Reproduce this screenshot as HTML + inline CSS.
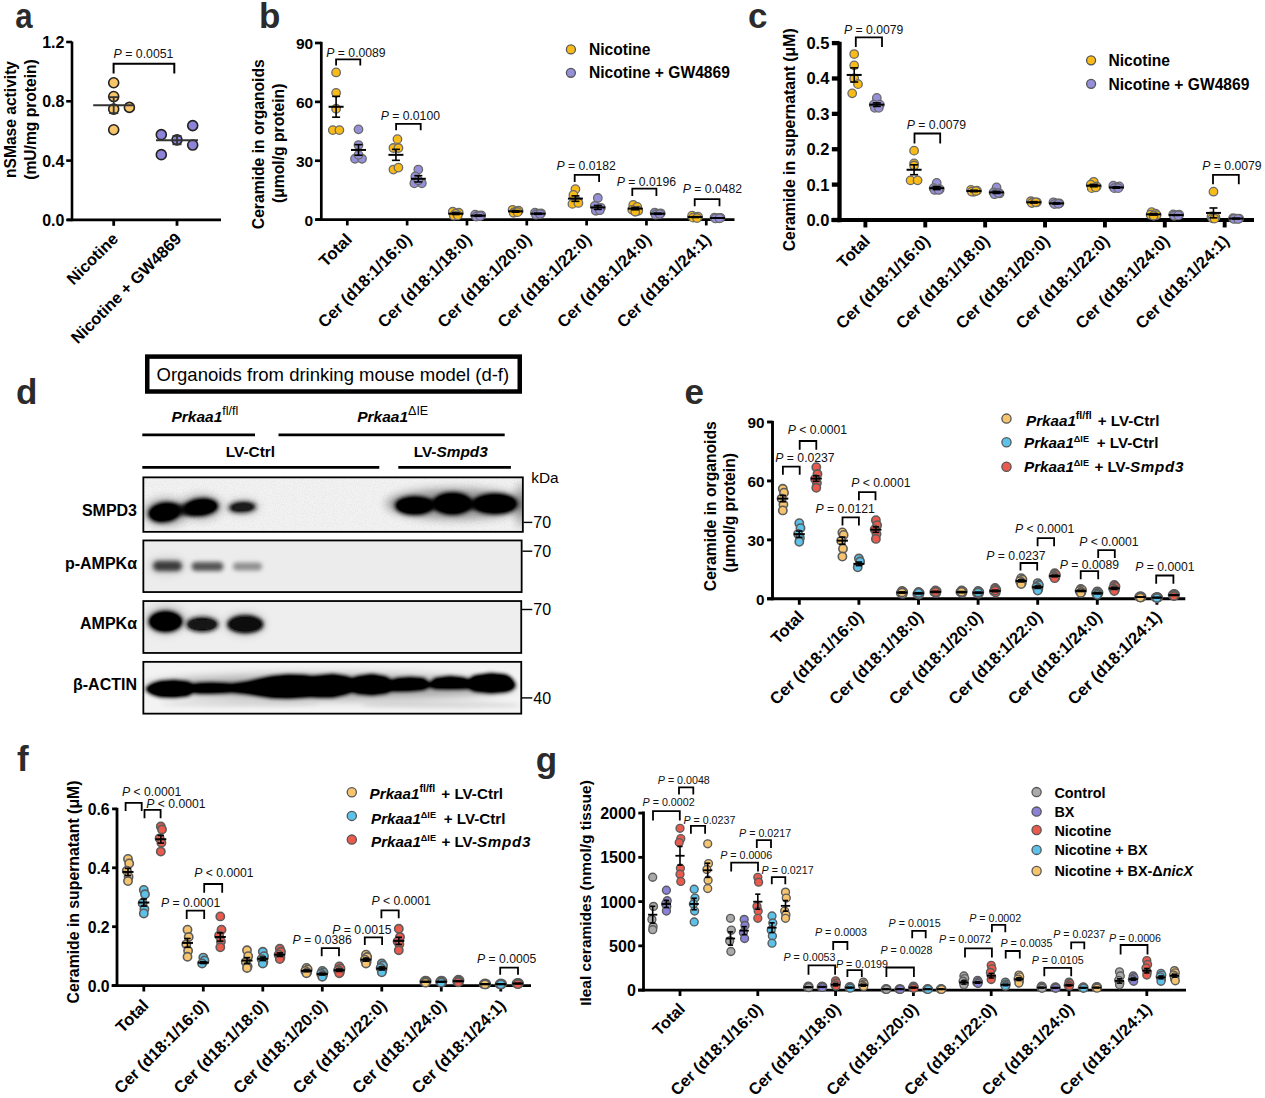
<!DOCTYPE html>
<html><head><meta charset="utf-8"><title>Figure</title>
<style>
html,body{margin:0;padding:0;background:#fff;}
body{width:1265px;height:1098px;overflow:hidden;}
svg{display:block;}
text{font-family:'Liberation Sans', Arial, Helvetica, sans-serif;}
</style></head><body>
<svg width="1265" height="1098" viewBox="0 0 1265 1098">
<rect width="1265" height="1098" fill="#fff"/>
<text transform="translate(15.2 28) scale(0.89 1)" font-size="35" font-weight="bold" fill="#2b2b2b">a</text>
<line x1="72" y1="41.5" x2="72" y2="221.2" stroke="#000" stroke-width="2.6" stroke-linecap="butt"/>
<line x1="66.2" y1="219.9" x2="72" y2="219.9" stroke="#000" stroke-width="2.6" stroke-linecap="butt"/>
<text x="64.4" y="225.9" font-size="16" font-weight="bold" text-anchor="end" fill="#000">0.0</text>
<line x1="66.2" y1="160.6" x2="72" y2="160.6" stroke="#000" stroke-width="2.6" stroke-linecap="butt"/>
<text x="64.4" y="166.6" font-size="16" font-weight="bold" text-anchor="end" fill="#000">0.4</text>
<line x1="66.2" y1="101.3" x2="72" y2="101.3" stroke="#000" stroke-width="2.6" stroke-linecap="butt"/>
<text x="64.4" y="107.3" font-size="16" font-weight="bold" text-anchor="end" fill="#000">0.8</text>
<line x1="66.2" y1="42" x2="72" y2="42" stroke="#000" stroke-width="2.6" stroke-linecap="butt"/>
<text x="64.4" y="48" font-size="16" font-weight="bold" text-anchor="end" fill="#000">1.2</text>
<line x1="67" y1="219.9" x2="221" y2="219.9" stroke="#000" stroke-width="2.8" stroke-linecap="butt"/>
<line x1="113.7" y1="219.9" x2="113.7" y2="225.8" stroke="#000" stroke-width="2.8" stroke-linecap="butt"/>
<line x1="177" y1="219.9" x2="177" y2="225.8" stroke="#000" stroke-width="2.8" stroke-linecap="butt"/>
<text x="15.9" y="119.5" font-size="15.6" font-weight="bold" text-anchor="middle" fill="#000" transform="rotate(-90 15.9 119.5)">nSMase activity</text>
<text x="35.7" y="119.5" font-size="15.6" font-weight="bold" text-anchor="middle" fill="#000" transform="rotate(-90 35.7 119.5)">(mU/mg protein)</text>
<text x="119.2" y="239.9" font-size="16.4" font-weight="bold" text-anchor="end" fill="#000" transform="rotate(-45 119.2 239.9)">Nicotine</text>
<text x="182.5" y="239.9" font-size="16.4" font-weight="bold" text-anchor="end" fill="#000" transform="rotate(-45 182.5 239.9)">Nicotine + GW4869</text>
<circle cx="113.7" cy="82.77" r="5" fill="#F8C56B" stroke="#222" stroke-width="1.6"/>
<circle cx="113.7" cy="96.56" r="5" fill="#F8C56B" stroke="#222" stroke-width="1.6"/>
<circle cx="113.7" cy="109.16" r="5" fill="#F8C56B" stroke="#222" stroke-width="1.6"/>
<circle cx="129.4" cy="107.38" r="5" fill="#F8C56B" stroke="#222" stroke-width="1.6"/>
<circle cx="113.7" cy="129.76" r="5" fill="#F8C56B" stroke="#222" stroke-width="1.6"/>
<circle cx="161.3" cy="134.66" r="5" fill="#8C84D9" stroke="#222" stroke-width="1.6"/>
<circle cx="161.3" cy="154.67" r="5" fill="#8C84D9" stroke="#222" stroke-width="1.6"/>
<circle cx="177" cy="139.84" r="5" fill="#8C84D9" stroke="#222" stroke-width="1.6"/>
<circle cx="192.7" cy="125.61" r="5" fill="#8C84D9" stroke="#222" stroke-width="1.6"/>
<circle cx="192.7" cy="145.03" r="5" fill="#8C84D9" stroke="#222" stroke-width="1.6"/>
<line x1="93.2" y1="105.15" x2="134.2" y2="105.15" stroke="#333" stroke-width="2" stroke-linecap="butt"/>
<line x1="113.7" y1="97.15" x2="113.7" y2="113.16" stroke="#333" stroke-width="1.8" stroke-linecap="butt"/>
<line x1="109.2" y1="97.15" x2="118.2" y2="97.15" stroke="#333" stroke-width="1.8" stroke-linecap="butt"/>
<line x1="109.2" y1="113.16" x2="118.2" y2="113.16" stroke="#333" stroke-width="1.8" stroke-linecap="butt"/>
<line x1="156" y1="140.14" x2="198" y2="140.14" stroke="#333" stroke-width="2" stroke-linecap="butt"/>
<line x1="177" y1="135.99" x2="177" y2="144.29" stroke="#333" stroke-width="1.8" stroke-linecap="butt"/>
<line x1="172.5" y1="135.99" x2="181.5" y2="135.99" stroke="#333" stroke-width="1.8" stroke-linecap="butt"/>
<line x1="172.5" y1="144.29" x2="181.5" y2="144.29" stroke="#333" stroke-width="1.8" stroke-linecap="butt"/>
<path d="M113.6 73.5V63.7H174.3V73.5" fill="none" stroke="#000" stroke-width="2"/>
<text x="143.5" y="57.7" font-size="12.3" text-anchor="middle" fill="#111"><tspan font-style="italic">P</tspan> = 0.0051</text>
<text x="259" y="28" font-size="35" font-weight="bold" fill="#2b2b2b">b</text>
<line x1="321.3" y1="41.8" x2="321.3" y2="220.95" stroke="#000" stroke-width="2.7" stroke-linecap="butt"/>
<line x1="314.95" y1="219.6" x2="321.3" y2="219.6" stroke="#000" stroke-width="2.7" stroke-linecap="butt"/>
<text x="313.15" y="225.6" font-size="15.5" font-weight="bold" text-anchor="end" fill="#000">0</text>
<line x1="314.95" y1="160.73" x2="321.3" y2="160.73" stroke="#000" stroke-width="2.7" stroke-linecap="butt"/>
<text x="313.15" y="166.73" font-size="15.5" font-weight="bold" text-anchor="end" fill="#000">30</text>
<line x1="314.95" y1="101.87" x2="321.3" y2="101.87" stroke="#000" stroke-width="2.7" stroke-linecap="butt"/>
<text x="313.15" y="107.87" font-size="15.5" font-weight="bold" text-anchor="end" fill="#000">60</text>
<line x1="314.95" y1="43" x2="321.3" y2="43" stroke="#000" stroke-width="2.7" stroke-linecap="butt"/>
<text x="313.15" y="49" font-size="15.5" font-weight="bold" text-anchor="end" fill="#000">90</text>
<line x1="316.4" y1="219.6" x2="734.5" y2="219.6" stroke="#000" stroke-width="2.7" stroke-linecap="butt"/>
<line x1="347.3" y1="219.6" x2="347.3" y2="225.45" stroke="#000" stroke-width="2.7" stroke-linecap="butt"/>
<line x1="407.13" y1="219.6" x2="407.13" y2="225.45" stroke="#000" stroke-width="2.7" stroke-linecap="butt"/>
<line x1="466.96" y1="219.6" x2="466.96" y2="225.45" stroke="#000" stroke-width="2.7" stroke-linecap="butt"/>
<line x1="526.79" y1="219.6" x2="526.79" y2="225.45" stroke="#000" stroke-width="2.7" stroke-linecap="butt"/>
<line x1="586.62" y1="219.6" x2="586.62" y2="225.45" stroke="#000" stroke-width="2.7" stroke-linecap="butt"/>
<line x1="646.45" y1="219.6" x2="646.45" y2="225.45" stroke="#000" stroke-width="2.7" stroke-linecap="butt"/>
<line x1="706.28" y1="219.6" x2="706.28" y2="225.45" stroke="#000" stroke-width="2.7" stroke-linecap="butt"/>
<text x="264.5" y="144.2" font-size="15.7" font-weight="bold" text-anchor="middle" fill="#000" transform="rotate(-90 264.5 144.2)">Ceramide in organoids</text>
<text x="284.5" y="143.3" font-size="15.7" font-weight="bold" text-anchor="middle" fill="#000" transform="rotate(-90 284.5 143.3)">(μmol/g protein)</text>
<text x="352.9" y="240.6" font-size="16.6" font-weight="bold" text-anchor="end" fill="#000" transform="rotate(-45 352.9 240.6)">Total</text>
<text x="412.73" y="240.6" font-size="16.6" font-weight="bold" text-anchor="end" fill="#000" transform="rotate(-45 412.73 240.6)">Cer (d18:1/16:0)</text>
<text x="472.56" y="240.6" font-size="16.6" font-weight="bold" text-anchor="end" fill="#000" transform="rotate(-45 472.56 240.6)">Cer (d18:1/18:0)</text>
<text x="532.39" y="240.6" font-size="16.6" font-weight="bold" text-anchor="end" fill="#000" transform="rotate(-45 532.39 240.6)">Cer (d18:1/20:0)</text>
<text x="592.22" y="240.6" font-size="16.6" font-weight="bold" text-anchor="end" fill="#000" transform="rotate(-45 592.22 240.6)">Cer (d18:1/22:0)</text>
<text x="652.05" y="240.6" font-size="16.6" font-weight="bold" text-anchor="end" fill="#000" transform="rotate(-45 652.05 240.6)">Cer (d18:1/24:0)</text>
<text x="711.88" y="240.6" font-size="16.6" font-weight="bold" text-anchor="end" fill="#000" transform="rotate(-45 711.88 240.6)">Cer (d18:1/24:1)</text>
<circle cx="336.1" cy="72.43" r="4.25" fill="#F9BB17" stroke="#6a6a6a" stroke-width="1.3"/>
<circle cx="336.1" cy="92.84" r="4.25" fill="#F9BB17" stroke="#6a6a6a" stroke-width="1.3"/>
<circle cx="336.1" cy="108.73" r="4.25" fill="#F9BB17" stroke="#6a6a6a" stroke-width="1.3"/>
<circle cx="332.8" cy="130.12" r="4.25" fill="#F9BB17" stroke="#6a6a6a" stroke-width="1.3"/>
<circle cx="339.4" cy="130.12" r="4.25" fill="#F9BB17" stroke="#6a6a6a" stroke-width="1.3"/>
<line x1="328.6" y1="106.77" x2="343.6" y2="106.77" stroke="#000" stroke-width="2.0" stroke-linecap="butt"/>
<line x1="336.1" y1="96.37" x2="336.1" y2="117.17" stroke="#000" stroke-width="1.6" stroke-linecap="butt"/>
<line x1="332.1" y1="96.37" x2="340.1" y2="96.37" stroke="#000" stroke-width="1.6" stroke-linecap="butt"/>
<line x1="332.1" y1="117.17" x2="340.1" y2="117.17" stroke="#000" stroke-width="1.6" stroke-linecap="butt"/>
<circle cx="358.5" cy="129.34" r="4.25" fill="#9690DA" stroke="#6a6a6a" stroke-width="1.3"/>
<circle cx="358.5" cy="145.04" r="4.25" fill="#9690DA" stroke="#6a6a6a" stroke-width="1.3"/>
<circle cx="355" cy="158.77" r="4.25" fill="#9690DA" stroke="#6a6a6a" stroke-width="1.3"/>
<circle cx="362" cy="158.77" r="4.25" fill="#9690DA" stroke="#6a6a6a" stroke-width="1.3"/>
<circle cx="358.5" cy="154.85" r="4.25" fill="#9690DA" stroke="#6a6a6a" stroke-width="1.3"/>
<line x1="351" y1="149.94" x2="366" y2="149.94" stroke="#000" stroke-width="2.0" stroke-linecap="butt"/>
<line x1="358.5" y1="144.64" x2="358.5" y2="155.24" stroke="#000" stroke-width="1.6" stroke-linecap="butt"/>
<line x1="354.5" y1="144.64" x2="362.5" y2="144.64" stroke="#000" stroke-width="1.6" stroke-linecap="butt"/>
<line x1="354.5" y1="155.24" x2="362.5" y2="155.24" stroke="#000" stroke-width="1.6" stroke-linecap="butt"/>
<circle cx="397.43" cy="139.15" r="4.25" fill="#F9BB17" stroke="#6a6a6a" stroke-width="1.3"/>
<circle cx="393.43" cy="147.98" r="4.25" fill="#F9BB17" stroke="#6a6a6a" stroke-width="1.3"/>
<circle cx="398.43" cy="147.98" r="4.25" fill="#F9BB17" stroke="#6a6a6a" stroke-width="1.3"/>
<circle cx="393.43" cy="169.56" r="4.25" fill="#F9BB17" stroke="#6a6a6a" stroke-width="1.3"/>
<circle cx="398.43" cy="167.6" r="4.25" fill="#F9BB17" stroke="#6a6a6a" stroke-width="1.3"/>
<line x1="388.43" y1="154.85" x2="403.43" y2="154.85" stroke="#000" stroke-width="2.0" stroke-linecap="butt"/>
<line x1="395.93" y1="149.35" x2="395.93" y2="160.34" stroke="#000" stroke-width="1.6" stroke-linecap="butt"/>
<line x1="391.93" y1="149.35" x2="399.93" y2="149.35" stroke="#000" stroke-width="1.6" stroke-linecap="butt"/>
<line x1="391.93" y1="160.34" x2="399.93" y2="160.34" stroke="#000" stroke-width="1.6" stroke-linecap="butt"/>
<circle cx="418.33" cy="169.56" r="4.25" fill="#9690DA" stroke="#6a6a6a" stroke-width="1.3"/>
<circle cx="415.33" cy="176.43" r="4.25" fill="#9690DA" stroke="#6a6a6a" stroke-width="1.3"/>
<circle cx="414.33" cy="183.3" r="4.25" fill="#9690DA" stroke="#6a6a6a" stroke-width="1.3"/>
<circle cx="421.83" cy="183.3" r="4.25" fill="#9690DA" stroke="#6a6a6a" stroke-width="1.3"/>
<circle cx="418.33" cy="180.36" r="4.25" fill="#9690DA" stroke="#6a6a6a" stroke-width="1.3"/>
<line x1="410.83" y1="178.79" x2="425.83" y2="178.79" stroke="#000" stroke-width="2.0" stroke-linecap="butt"/>
<line x1="418.33" y1="175.65" x2="418.33" y2="181.93" stroke="#000" stroke-width="1.6" stroke-linecap="butt"/>
<line x1="414.33" y1="175.65" x2="422.33" y2="175.65" stroke="#000" stroke-width="1.6" stroke-linecap="butt"/>
<line x1="414.33" y1="181.93" x2="422.33" y2="181.93" stroke="#000" stroke-width="1.6" stroke-linecap="butt"/>
<circle cx="452.76" cy="211.75" r="4.25" fill="#F9BB17" stroke="#6a6a6a" stroke-width="1.3"/>
<circle cx="458.76" cy="212.73" r="4.25" fill="#F9BB17" stroke="#6a6a6a" stroke-width="1.3"/>
<circle cx="455.76" cy="213.71" r="4.25" fill="#F9BB17" stroke="#6a6a6a" stroke-width="1.3"/>
<circle cx="453.76" cy="215.68" r="4.25" fill="#F9BB17" stroke="#6a6a6a" stroke-width="1.3"/>
<circle cx="457.76" cy="215.28" r="4.25" fill="#F9BB17" stroke="#6a6a6a" stroke-width="1.3"/>
<line x1="448.26" y1="213.71" x2="463.26" y2="213.71" stroke="#000" stroke-width="2.0" stroke-linecap="butt"/>
<line x1="455.76" y1="212.93" x2="455.76" y2="214.5" stroke="#000" stroke-width="1.6" stroke-linecap="butt"/>
<line x1="451.76" y1="212.93" x2="459.76" y2="212.93" stroke="#000" stroke-width="1.6" stroke-linecap="butt"/>
<line x1="451.76" y1="214.5" x2="459.76" y2="214.5" stroke="#000" stroke-width="1.6" stroke-linecap="butt"/>
<circle cx="475.16" cy="214.69" r="4.25" fill="#9690DA" stroke="#6a6a6a" stroke-width="1.3"/>
<circle cx="481.16" cy="215.28" r="4.25" fill="#9690DA" stroke="#6a6a6a" stroke-width="1.3"/>
<circle cx="478.16" cy="215.68" r="4.25" fill="#9690DA" stroke="#6a6a6a" stroke-width="1.3"/>
<circle cx="476.16" cy="216.66" r="4.25" fill="#9690DA" stroke="#6a6a6a" stroke-width="1.3"/>
<circle cx="480.16" cy="216.07" r="4.25" fill="#9690DA" stroke="#6a6a6a" stroke-width="1.3"/>
<line x1="470.66" y1="215.68" x2="485.66" y2="215.68" stroke="#000" stroke-width="2.0" stroke-linecap="butt"/>
<line x1="478.16" y1="215.09" x2="478.16" y2="216.26" stroke="#000" stroke-width="1.6" stroke-linecap="butt"/>
<line x1="474.16" y1="215.09" x2="482.16" y2="215.09" stroke="#000" stroke-width="1.6" stroke-linecap="butt"/>
<line x1="474.16" y1="216.26" x2="482.16" y2="216.26" stroke="#000" stroke-width="1.6" stroke-linecap="butt"/>
<circle cx="512.59" cy="209.79" r="4.25" fill="#F9BB17" stroke="#6a6a6a" stroke-width="1.3"/>
<circle cx="518.59" cy="210.77" r="4.25" fill="#F9BB17" stroke="#6a6a6a" stroke-width="1.3"/>
<circle cx="515.59" cy="211.75" r="4.25" fill="#F9BB17" stroke="#6a6a6a" stroke-width="1.3"/>
<circle cx="513.59" cy="212.73" r="4.25" fill="#F9BB17" stroke="#6a6a6a" stroke-width="1.3"/>
<circle cx="517.59" cy="212.14" r="4.25" fill="#F9BB17" stroke="#6a6a6a" stroke-width="1.3"/>
<line x1="508.09" y1="211.36" x2="523.09" y2="211.36" stroke="#000" stroke-width="2.0" stroke-linecap="butt"/>
<line x1="515.59" y1="210.57" x2="515.59" y2="212.14" stroke="#000" stroke-width="1.6" stroke-linecap="butt"/>
<line x1="511.59" y1="210.57" x2="519.59" y2="210.57" stroke="#000" stroke-width="1.6" stroke-linecap="butt"/>
<line x1="511.59" y1="212.14" x2="519.59" y2="212.14" stroke="#000" stroke-width="1.6" stroke-linecap="butt"/>
<circle cx="534.99" cy="212.73" r="4.25" fill="#9690DA" stroke="#6a6a6a" stroke-width="1.3"/>
<circle cx="540.99" cy="213.32" r="4.25" fill="#9690DA" stroke="#6a6a6a" stroke-width="1.3"/>
<circle cx="537.99" cy="213.71" r="4.25" fill="#9690DA" stroke="#6a6a6a" stroke-width="1.3"/>
<circle cx="535.99" cy="214.69" r="4.25" fill="#9690DA" stroke="#6a6a6a" stroke-width="1.3"/>
<circle cx="539.99" cy="214.11" r="4.25" fill="#9690DA" stroke="#6a6a6a" stroke-width="1.3"/>
<line x1="530.49" y1="213.71" x2="545.49" y2="213.71" stroke="#000" stroke-width="2.0" stroke-linecap="butt"/>
<line x1="537.99" y1="213.12" x2="537.99" y2="214.3" stroke="#000" stroke-width="1.6" stroke-linecap="butt"/>
<line x1="533.99" y1="213.12" x2="541.99" y2="213.12" stroke="#000" stroke-width="1.6" stroke-linecap="butt"/>
<line x1="533.99" y1="214.3" x2="541.99" y2="214.3" stroke="#000" stroke-width="1.6" stroke-linecap="butt"/>
<circle cx="575.42" cy="189.19" r="4.25" fill="#F9BB17" stroke="#6a6a6a" stroke-width="1.3"/>
<circle cx="573.42" cy="194.88" r="4.25" fill="#F9BB17" stroke="#6a6a6a" stroke-width="1.3"/>
<circle cx="577.42" cy="201.35" r="4.25" fill="#F9BB17" stroke="#6a6a6a" stroke-width="1.3"/>
<circle cx="572.42" cy="203.9" r="4.25" fill="#F9BB17" stroke="#6a6a6a" stroke-width="1.3"/>
<circle cx="578.42" cy="202.92" r="4.25" fill="#F9BB17" stroke="#6a6a6a" stroke-width="1.3"/>
<line x1="567.92" y1="198.6" x2="582.92" y2="198.6" stroke="#000" stroke-width="2.0" stroke-linecap="butt"/>
<line x1="575.42" y1="195.86" x2="575.42" y2="201.35" stroke="#000" stroke-width="1.6" stroke-linecap="butt"/>
<line x1="571.42" y1="195.86" x2="579.42" y2="195.86" stroke="#000" stroke-width="1.6" stroke-linecap="butt"/>
<line x1="571.42" y1="201.35" x2="579.42" y2="201.35" stroke="#000" stroke-width="1.6" stroke-linecap="butt"/>
<circle cx="597.82" cy="198.02" r="4.25" fill="#9690DA" stroke="#6a6a6a" stroke-width="1.3"/>
<circle cx="594.82" cy="205.86" r="4.25" fill="#9690DA" stroke="#6a6a6a" stroke-width="1.3"/>
<circle cx="600.82" cy="207.83" r="4.25" fill="#9690DA" stroke="#6a6a6a" stroke-width="1.3"/>
<circle cx="595.82" cy="210.77" r="4.25" fill="#9690DA" stroke="#6a6a6a" stroke-width="1.3"/>
<circle cx="599.82" cy="210.18" r="4.25" fill="#9690DA" stroke="#6a6a6a" stroke-width="1.3"/>
<line x1="590.32" y1="207.43" x2="605.32" y2="207.43" stroke="#000" stroke-width="2.0" stroke-linecap="butt"/>
<line x1="597.82" y1="205.47" x2="597.82" y2="209.4" stroke="#000" stroke-width="1.6" stroke-linecap="butt"/>
<line x1="593.82" y1="205.47" x2="601.82" y2="205.47" stroke="#000" stroke-width="1.6" stroke-linecap="butt"/>
<line x1="593.82" y1="209.4" x2="601.82" y2="209.4" stroke="#000" stroke-width="1.6" stroke-linecap="butt"/>
<circle cx="633.25" cy="204.88" r="4.25" fill="#F9BB17" stroke="#6a6a6a" stroke-width="1.3"/>
<circle cx="637.25" cy="206.85" r="4.25" fill="#F9BB17" stroke="#6a6a6a" stroke-width="1.3"/>
<circle cx="632.25" cy="209.79" r="4.25" fill="#F9BB17" stroke="#6a6a6a" stroke-width="1.3"/>
<circle cx="638.25" cy="210.77" r="4.25" fill="#F9BB17" stroke="#6a6a6a" stroke-width="1.3"/>
<circle cx="635.25" cy="211.75" r="4.25" fill="#F9BB17" stroke="#6a6a6a" stroke-width="1.3"/>
<line x1="627.75" y1="208.61" x2="642.75" y2="208.61" stroke="#000" stroke-width="2.0" stroke-linecap="butt"/>
<line x1="635.25" y1="207.43" x2="635.25" y2="209.79" stroke="#000" stroke-width="1.6" stroke-linecap="butt"/>
<line x1="631.25" y1="207.43" x2="639.25" y2="207.43" stroke="#000" stroke-width="1.6" stroke-linecap="butt"/>
<line x1="631.25" y1="209.79" x2="639.25" y2="209.79" stroke="#000" stroke-width="1.6" stroke-linecap="butt"/>
<circle cx="654.65" cy="212.73" r="4.25" fill="#9690DA" stroke="#6a6a6a" stroke-width="1.3"/>
<circle cx="660.65" cy="213.32" r="4.25" fill="#9690DA" stroke="#6a6a6a" stroke-width="1.3"/>
<circle cx="657.65" cy="213.71" r="4.25" fill="#9690DA" stroke="#6a6a6a" stroke-width="1.3"/>
<circle cx="655.65" cy="214.69" r="4.25" fill="#9690DA" stroke="#6a6a6a" stroke-width="1.3"/>
<circle cx="659.65" cy="214.11" r="4.25" fill="#9690DA" stroke="#6a6a6a" stroke-width="1.3"/>
<line x1="650.15" y1="213.71" x2="665.15" y2="213.71" stroke="#000" stroke-width="2.0" stroke-linecap="butt"/>
<line x1="657.65" y1="213.12" x2="657.65" y2="214.3" stroke="#000" stroke-width="1.6" stroke-linecap="butt"/>
<line x1="653.65" y1="213.12" x2="661.65" y2="213.12" stroke="#000" stroke-width="1.6" stroke-linecap="butt"/>
<line x1="653.65" y1="214.3" x2="661.65" y2="214.3" stroke="#000" stroke-width="1.6" stroke-linecap="butt"/>
<circle cx="692.08" cy="215.68" r="4.25" fill="#F9BB17" stroke="#6a6a6a" stroke-width="1.3"/>
<circle cx="698.08" cy="216.66" r="4.25" fill="#F9BB17" stroke="#6a6a6a" stroke-width="1.3"/>
<circle cx="695.08" cy="217.25" r="4.25" fill="#F9BB17" stroke="#6a6a6a" stroke-width="1.3"/>
<circle cx="693.08" cy="217.64" r="4.25" fill="#F9BB17" stroke="#6a6a6a" stroke-width="1.3"/>
<circle cx="697.08" cy="218.03" r="4.25" fill="#F9BB17" stroke="#6a6a6a" stroke-width="1.3"/>
<line x1="687.58" y1="217.05" x2="702.58" y2="217.05" stroke="#000" stroke-width="2.0" stroke-linecap="butt"/>
<line x1="695.08" y1="216.66" x2="695.08" y2="217.44" stroke="#000" stroke-width="1.6" stroke-linecap="butt"/>
<line x1="691.08" y1="216.66" x2="699.08" y2="216.66" stroke="#000" stroke-width="1.6" stroke-linecap="butt"/>
<line x1="691.08" y1="217.44" x2="699.08" y2="217.44" stroke="#000" stroke-width="1.6" stroke-linecap="butt"/>
<circle cx="714.48" cy="217.64" r="4.25" fill="#9690DA" stroke="#6a6a6a" stroke-width="1.3"/>
<circle cx="720.48" cy="217.83" r="4.25" fill="#9690DA" stroke="#6a6a6a" stroke-width="1.3"/>
<circle cx="717.48" cy="218.03" r="4.25" fill="#9690DA" stroke="#6a6a6a" stroke-width="1.3"/>
<circle cx="715.48" cy="218.42" r="4.25" fill="#9690DA" stroke="#6a6a6a" stroke-width="1.3"/>
<circle cx="719.48" cy="218.23" r="4.25" fill="#9690DA" stroke="#6a6a6a" stroke-width="1.3"/>
<line x1="709.98" y1="218.03" x2="724.98" y2="218.03" stroke="#000" stroke-width="2.0" stroke-linecap="butt"/>
<line x1="717.48" y1="217.83" x2="717.48" y2="218.23" stroke="#000" stroke-width="1.6" stroke-linecap="butt"/>
<line x1="713.48" y1="217.83" x2="721.48" y2="217.83" stroke="#000" stroke-width="1.6" stroke-linecap="butt"/>
<line x1="713.48" y1="218.23" x2="721.48" y2="218.23" stroke="#000" stroke-width="1.6" stroke-linecap="butt"/>
<path d="M336.1 65.5V59.3H360.3V65.5" fill="none" stroke="#000" stroke-width="1.8"/>
<text x="356" y="56.8" font-size="12.2" text-anchor="middle" fill="#111"><tspan font-style="italic">P</tspan> = 0.0089</text>
<path d="M396.1 130.2V123.9H420.7V130.2" fill="none" stroke="#000" stroke-width="1.8"/>
<text x="410.3" y="119.8" font-size="12.2" text-anchor="middle" fill="#111"><tspan font-style="italic">P</tspan> = 0.0100</text>
<path d="M574.7 182V174.9H599.1V182" fill="none" stroke="#000" stroke-width="1.8"/>
<text x="586.2" y="170.4" font-size="12.2" text-anchor="middle" fill="#111"><tspan font-style="italic">P</tspan> = 0.0182</text>
<path d="M632.3 195.9V188.6H656.4V195.9" fill="none" stroke="#000" stroke-width="1.8"/>
<text x="646.4" y="185.5" font-size="12.2" text-anchor="middle" fill="#111"><tspan font-style="italic">P</tspan> = 0.0196</text>
<path d="M694.7 206.3V199.2H719.5V206.3" fill="none" stroke="#000" stroke-width="1.8"/>
<text x="712.4" y="193.2" font-size="12.2" text-anchor="middle" fill="#111"><tspan font-style="italic">P</tspan> = 0.0482</text>
<circle cx="570.9" cy="49.4" r="4.5" fill="#F9BB17" stroke="#555" stroke-width="1.3"/>
<text x="589" y="55" font-size="15.6" font-weight="bold" text-anchor="start" fill="#000">Nicotine</text>
<circle cx="570.9" cy="72.8" r="4.5" fill="#9690DA" stroke="#555" stroke-width="1.3"/>
<text x="589" y="78.4" font-size="15.6" font-weight="bold" text-anchor="start" fill="#000">Nicotine + GW4869</text>
<text x="748" y="27.5" font-size="35" font-weight="bold" fill="#2b2b2b">c</text>
<line x1="839.5" y1="41.7" x2="839.5" y2="222.15" stroke="#000" stroke-width="4.3" stroke-linecap="butt"/>
<line x1="831.85" y1="220" x2="839.5" y2="220" stroke="#000" stroke-width="4.3" stroke-linecap="butt"/>
<text x="829.35" y="226" font-size="16.5" font-weight="bold" text-anchor="end" fill="#000">0.0</text>
<line x1="831.85" y1="184.62" x2="839.5" y2="184.62" stroke="#000" stroke-width="4.3" stroke-linecap="butt"/>
<text x="829.35" y="190.62" font-size="16.5" font-weight="bold" text-anchor="end" fill="#000">0.1</text>
<line x1="831.85" y1="149.24" x2="839.5" y2="149.24" stroke="#000" stroke-width="4.3" stroke-linecap="butt"/>
<text x="829.35" y="155.24" font-size="16.5" font-weight="bold" text-anchor="end" fill="#000">0.2</text>
<line x1="831.85" y1="113.86" x2="839.5" y2="113.86" stroke="#000" stroke-width="4.3" stroke-linecap="butt"/>
<text x="829.35" y="119.86" font-size="16.5" font-weight="bold" text-anchor="end" fill="#000">0.3</text>
<line x1="831.85" y1="78.48" x2="839.5" y2="78.48" stroke="#000" stroke-width="4.3" stroke-linecap="butt"/>
<text x="829.35" y="84.48" font-size="16.5" font-weight="bold" text-anchor="end" fill="#000">0.4</text>
<line x1="831.85" y1="43.1" x2="839.5" y2="43.1" stroke="#000" stroke-width="4.3" stroke-linecap="butt"/>
<text x="829.35" y="49.1" font-size="16.5" font-weight="bold" text-anchor="end" fill="#000">0.5</text>
<line x1="831.4" y1="220" x2="1254" y2="220" stroke="#000" stroke-width="3.9" stroke-linecap="butt"/>
<line x1="865.4" y1="220" x2="865.4" y2="227.45" stroke="#000" stroke-width="3.9" stroke-linecap="butt"/>
<line x1="925.28" y1="220" x2="925.28" y2="227.45" stroke="#000" stroke-width="3.9" stroke-linecap="butt"/>
<line x1="985.16" y1="220" x2="985.16" y2="227.45" stroke="#000" stroke-width="3.9" stroke-linecap="butt"/>
<line x1="1045.04" y1="220" x2="1045.04" y2="227.45" stroke="#000" stroke-width="3.9" stroke-linecap="butt"/>
<line x1="1104.92" y1="220" x2="1104.92" y2="227.45" stroke="#000" stroke-width="3.9" stroke-linecap="butt"/>
<line x1="1164.8" y1="220" x2="1164.8" y2="227.45" stroke="#000" stroke-width="3.9" stroke-linecap="butt"/>
<line x1="1224.68" y1="220" x2="1224.68" y2="227.45" stroke="#000" stroke-width="3.9" stroke-linecap="butt"/>
<text x="795" y="139.8" font-size="15.8" font-weight="bold" text-anchor="middle" fill="#000" transform="rotate(-90 795 139.8)">Ceramide in supernatant (μM)</text>
<text x="871" y="242" font-size="16.6" font-weight="bold" text-anchor="end" fill="#000" transform="rotate(-45 871 242)">Total</text>
<text x="930.88" y="242" font-size="16.6" font-weight="bold" text-anchor="end" fill="#000" transform="rotate(-45 930.88 242)">Cer (d18:1/16:0)</text>
<text x="990.76" y="242" font-size="16.6" font-weight="bold" text-anchor="end" fill="#000" transform="rotate(-45 990.76 242)">Cer (d18:1/18:0)</text>
<text x="1050.64" y="242" font-size="16.6" font-weight="bold" text-anchor="end" fill="#000" transform="rotate(-45 1050.64 242)">Cer (d18:1/20:0)</text>
<text x="1110.52" y="242" font-size="16.6" font-weight="bold" text-anchor="end" fill="#000" transform="rotate(-45 1110.52 242)">Cer (d18:1/22:0)</text>
<text x="1170.4" y="242" font-size="16.6" font-weight="bold" text-anchor="end" fill="#000" transform="rotate(-45 1170.4 242)">Cer (d18:1/24:0)</text>
<text x="1230.28" y="242" font-size="16.6" font-weight="bold" text-anchor="end" fill="#000" transform="rotate(-45 1230.28 242)">Cer (d18:1/24:1)</text>
<circle cx="854.2" cy="54.07" r="4.25" fill="#F9BB17" stroke="#6a6a6a" stroke-width="1.3"/>
<circle cx="854.2" cy="65.39" r="4.25" fill="#F9BB17" stroke="#6a6a6a" stroke-width="1.3"/>
<circle cx="854.2" cy="78.48" r="4.25" fill="#F9BB17" stroke="#6a6a6a" stroke-width="1.3"/>
<circle cx="858" cy="84.14" r="4.25" fill="#F9BB17" stroke="#6a6a6a" stroke-width="1.3"/>
<circle cx="852.2" cy="93.34" r="4.25" fill="#F9BB17" stroke="#6a6a6a" stroke-width="1.3"/>
<line x1="846.7" y1="74.94" x2="861.7" y2="74.94" stroke="#000" stroke-width="2.0" stroke-linecap="butt"/>
<line x1="854.2" y1="67.87" x2="854.2" y2="82.02" stroke="#000" stroke-width="1.6" stroke-linecap="butt"/>
<line x1="850.2" y1="67.87" x2="858.2" y2="67.87" stroke="#000" stroke-width="1.6" stroke-linecap="butt"/>
<line x1="850.2" y1="82.02" x2="858.2" y2="82.02" stroke="#000" stroke-width="1.6" stroke-linecap="butt"/>
<circle cx="876.8" cy="97.94" r="4.25" fill="#9690DA" stroke="#6a6a6a" stroke-width="1.3"/>
<circle cx="873.8" cy="104.66" r="4.25" fill="#9690DA" stroke="#6a6a6a" stroke-width="1.3"/>
<circle cx="879.8" cy="104.66" r="4.25" fill="#9690DA" stroke="#6a6a6a" stroke-width="1.3"/>
<circle cx="874.8" cy="107.85" r="4.25" fill="#9690DA" stroke="#6a6a6a" stroke-width="1.3"/>
<circle cx="878.8" cy="107.85" r="4.25" fill="#9690DA" stroke="#6a6a6a" stroke-width="1.3"/>
<line x1="869.3" y1="104.66" x2="884.3" y2="104.66" stroke="#000" stroke-width="2.0" stroke-linecap="butt"/>
<line x1="876.8" y1="102.89" x2="876.8" y2="106.43" stroke="#000" stroke-width="1.6" stroke-linecap="butt"/>
<line x1="872.8" y1="102.89" x2="880.8" y2="102.89" stroke="#000" stroke-width="1.6" stroke-linecap="butt"/>
<line x1="872.8" y1="106.43" x2="880.8" y2="106.43" stroke="#000" stroke-width="1.6" stroke-linecap="butt"/>
<circle cx="914.08" cy="150.66" r="4.25" fill="#F9BB17" stroke="#6a6a6a" stroke-width="1.3"/>
<circle cx="914.08" cy="163.39" r="4.25" fill="#F9BB17" stroke="#6a6a6a" stroke-width="1.3"/>
<circle cx="914.08" cy="165.51" r="4.25" fill="#F9BB17" stroke="#6a6a6a" stroke-width="1.3"/>
<circle cx="910.58" cy="180.37" r="4.25" fill="#F9BB17" stroke="#6a6a6a" stroke-width="1.3"/>
<circle cx="917.58" cy="180.37" r="4.25" fill="#F9BB17" stroke="#6a6a6a" stroke-width="1.3"/>
<line x1="906.58" y1="169.76" x2="921.58" y2="169.76" stroke="#000" stroke-width="2.0" stroke-linecap="butt"/>
<line x1="914.08" y1="164.81" x2="914.08" y2="174.71" stroke="#000" stroke-width="1.6" stroke-linecap="butt"/>
<line x1="910.08" y1="164.81" x2="918.08" y2="164.81" stroke="#000" stroke-width="1.6" stroke-linecap="butt"/>
<line x1="910.08" y1="174.71" x2="918.08" y2="174.71" stroke="#000" stroke-width="1.6" stroke-linecap="butt"/>
<circle cx="936.68" cy="182.85" r="4.25" fill="#9690DA" stroke="#6a6a6a" stroke-width="1.3"/>
<circle cx="933.68" cy="188.16" r="4.25" fill="#9690DA" stroke="#6a6a6a" stroke-width="1.3"/>
<circle cx="939.68" cy="189.22" r="4.25" fill="#9690DA" stroke="#6a6a6a" stroke-width="1.3"/>
<circle cx="934.68" cy="189.93" r="4.25" fill="#9690DA" stroke="#6a6a6a" stroke-width="1.3"/>
<circle cx="938.68" cy="189.93" r="4.25" fill="#9690DA" stroke="#6a6a6a" stroke-width="1.3"/>
<line x1="929.18" y1="188.16" x2="944.18" y2="188.16" stroke="#000" stroke-width="2.0" stroke-linecap="butt"/>
<line x1="936.68" y1="186.74" x2="936.68" y2="189.57" stroke="#000" stroke-width="1.6" stroke-linecap="butt"/>
<line x1="932.68" y1="186.74" x2="940.68" y2="186.74" stroke="#000" stroke-width="1.6" stroke-linecap="butt"/>
<line x1="932.68" y1="189.57" x2="940.68" y2="189.57" stroke="#000" stroke-width="1.6" stroke-linecap="butt"/>
<circle cx="970.96" cy="189.93" r="4.25" fill="#F9BB17" stroke="#6a6a6a" stroke-width="1.3"/>
<circle cx="976.96" cy="190.63" r="4.25" fill="#F9BB17" stroke="#6a6a6a" stroke-width="1.3"/>
<circle cx="973.96" cy="191.7" r="4.25" fill="#F9BB17" stroke="#6a6a6a" stroke-width="1.3"/>
<circle cx="971.96" cy="191.7" r="4.25" fill="#F9BB17" stroke="#6a6a6a" stroke-width="1.3"/>
<circle cx="975.96" cy="190.99" r="4.25" fill="#F9BB17" stroke="#6a6a6a" stroke-width="1.3"/>
<line x1="966.46" y1="190.99" x2="981.46" y2="190.99" stroke="#000" stroke-width="2.0" stroke-linecap="butt"/>
<line x1="973.96" y1="190.28" x2="973.96" y2="191.7" stroke="#000" stroke-width="1.6" stroke-linecap="butt"/>
<line x1="969.96" y1="190.28" x2="977.96" y2="190.28" stroke="#000" stroke-width="1.6" stroke-linecap="butt"/>
<line x1="969.96" y1="191.7" x2="977.96" y2="191.7" stroke="#000" stroke-width="1.6" stroke-linecap="butt"/>
<circle cx="996.56" cy="187.45" r="4.25" fill="#9690DA" stroke="#6a6a6a" stroke-width="1.3"/>
<circle cx="993.56" cy="192.4" r="4.25" fill="#9690DA" stroke="#6a6a6a" stroke-width="1.3"/>
<circle cx="999.56" cy="193.47" r="4.25" fill="#9690DA" stroke="#6a6a6a" stroke-width="1.3"/>
<circle cx="994.56" cy="194.17" r="4.25" fill="#9690DA" stroke="#6a6a6a" stroke-width="1.3"/>
<circle cx="998.56" cy="193.11" r="4.25" fill="#9690DA" stroke="#6a6a6a" stroke-width="1.3"/>
<line x1="989.06" y1="192.4" x2="1004.06" y2="192.4" stroke="#000" stroke-width="2.0" stroke-linecap="butt"/>
<line x1="996.56" y1="191.34" x2="996.56" y2="193.47" stroke="#000" stroke-width="1.6" stroke-linecap="butt"/>
<line x1="992.56" y1="191.34" x2="1000.56" y2="191.34" stroke="#000" stroke-width="1.6" stroke-linecap="butt"/>
<line x1="992.56" y1="193.47" x2="1000.56" y2="193.47" stroke="#000" stroke-width="1.6" stroke-linecap="butt"/>
<circle cx="1030.84" cy="201.25" r="4.25" fill="#F9BB17" stroke="#6a6a6a" stroke-width="1.3"/>
<circle cx="1036.84" cy="202.31" r="4.25" fill="#F9BB17" stroke="#6a6a6a" stroke-width="1.3"/>
<circle cx="1033.84" cy="202.31" r="4.25" fill="#F9BB17" stroke="#6a6a6a" stroke-width="1.3"/>
<circle cx="1031.84" cy="203.02" r="4.25" fill="#F9BB17" stroke="#6a6a6a" stroke-width="1.3"/>
<circle cx="1035.84" cy="202.31" r="4.25" fill="#F9BB17" stroke="#6a6a6a" stroke-width="1.3"/>
<line x1="1026.34" y1="202.31" x2="1041.34" y2="202.31" stroke="#000" stroke-width="2.0" stroke-linecap="butt"/>
<line x1="1033.84" y1="201.6" x2="1033.84" y2="203.02" stroke="#000" stroke-width="1.6" stroke-linecap="butt"/>
<line x1="1029.84" y1="201.6" x2="1037.84" y2="201.6" stroke="#000" stroke-width="1.6" stroke-linecap="butt"/>
<line x1="1029.84" y1="203.02" x2="1037.84" y2="203.02" stroke="#000" stroke-width="1.6" stroke-linecap="butt"/>
<circle cx="1053.44" cy="202.31" r="4.25" fill="#9690DA" stroke="#6a6a6a" stroke-width="1.3"/>
<circle cx="1059.44" cy="203.37" r="4.25" fill="#9690DA" stroke="#6a6a6a" stroke-width="1.3"/>
<circle cx="1056.44" cy="203.37" r="4.25" fill="#9690DA" stroke="#6a6a6a" stroke-width="1.3"/>
<circle cx="1054.44" cy="204.08" r="4.25" fill="#9690DA" stroke="#6a6a6a" stroke-width="1.3"/>
<circle cx="1058.44" cy="203.73" r="4.25" fill="#9690DA" stroke="#6a6a6a" stroke-width="1.3"/>
<line x1="1048.94" y1="203.37" x2="1063.94" y2="203.37" stroke="#000" stroke-width="2.0" stroke-linecap="butt"/>
<line x1="1056.44" y1="202.66" x2="1056.44" y2="204.08" stroke="#000" stroke-width="1.6" stroke-linecap="butt"/>
<line x1="1052.44" y1="202.66" x2="1060.44" y2="202.66" stroke="#000" stroke-width="1.6" stroke-linecap="butt"/>
<line x1="1052.44" y1="204.08" x2="1060.44" y2="204.08" stroke="#000" stroke-width="1.6" stroke-linecap="butt"/>
<circle cx="1093.72" cy="181.79" r="4.25" fill="#F9BB17" stroke="#6a6a6a" stroke-width="1.3"/>
<circle cx="1090.72" cy="184.62" r="4.25" fill="#F9BB17" stroke="#6a6a6a" stroke-width="1.3"/>
<circle cx="1096.72" cy="186.39" r="4.25" fill="#F9BB17" stroke="#6a6a6a" stroke-width="1.3"/>
<circle cx="1091.72" cy="188.16" r="4.25" fill="#F9BB17" stroke="#6a6a6a" stroke-width="1.3"/>
<circle cx="1095.72" cy="187.45" r="4.25" fill="#F9BB17" stroke="#6a6a6a" stroke-width="1.3"/>
<line x1="1086.22" y1="185.68" x2="1101.22" y2="185.68" stroke="#000" stroke-width="2.0" stroke-linecap="butt"/>
<line x1="1093.72" y1="184.62" x2="1093.72" y2="186.74" stroke="#000" stroke-width="1.6" stroke-linecap="butt"/>
<line x1="1089.72" y1="184.62" x2="1097.72" y2="184.62" stroke="#000" stroke-width="1.6" stroke-linecap="butt"/>
<line x1="1089.72" y1="186.74" x2="1097.72" y2="186.74" stroke="#000" stroke-width="1.6" stroke-linecap="butt"/>
<circle cx="1113.32" cy="185.68" r="4.25" fill="#9690DA" stroke="#6a6a6a" stroke-width="1.3"/>
<circle cx="1119.32" cy="186.39" r="4.25" fill="#9690DA" stroke="#6a6a6a" stroke-width="1.3"/>
<circle cx="1116.32" cy="187.45" r="4.25" fill="#9690DA" stroke="#6a6a6a" stroke-width="1.3"/>
<circle cx="1114.32" cy="188.16" r="4.25" fill="#9690DA" stroke="#6a6a6a" stroke-width="1.3"/>
<circle cx="1118.32" cy="188.16" r="4.25" fill="#9690DA" stroke="#6a6a6a" stroke-width="1.3"/>
<line x1="1108.82" y1="187.45" x2="1123.82" y2="187.45" stroke="#000" stroke-width="2.0" stroke-linecap="butt"/>
<line x1="1116.32" y1="186.74" x2="1116.32" y2="188.16" stroke="#000" stroke-width="1.6" stroke-linecap="butt"/>
<line x1="1112.32" y1="186.74" x2="1120.32" y2="186.74" stroke="#000" stroke-width="1.6" stroke-linecap="butt"/>
<line x1="1112.32" y1="188.16" x2="1120.32" y2="188.16" stroke="#000" stroke-width="1.6" stroke-linecap="butt"/>
<circle cx="1151.6" cy="212.22" r="4.25" fill="#F9BB17" stroke="#6a6a6a" stroke-width="1.3"/>
<circle cx="1155.6" cy="213.63" r="4.25" fill="#F9BB17" stroke="#6a6a6a" stroke-width="1.3"/>
<circle cx="1150.6" cy="214.69" r="4.25" fill="#F9BB17" stroke="#6a6a6a" stroke-width="1.3"/>
<circle cx="1156.6" cy="215.05" r="4.25" fill="#F9BB17" stroke="#6a6a6a" stroke-width="1.3"/>
<circle cx="1153.6" cy="215.75" r="4.25" fill="#F9BB17" stroke="#6a6a6a" stroke-width="1.3"/>
<line x1="1146.1" y1="214.34" x2="1161.1" y2="214.34" stroke="#000" stroke-width="2.0" stroke-linecap="butt"/>
<line x1="1153.6" y1="213.63" x2="1153.6" y2="215.05" stroke="#000" stroke-width="1.6" stroke-linecap="butt"/>
<line x1="1149.6" y1="213.63" x2="1157.6" y2="213.63" stroke="#000" stroke-width="1.6" stroke-linecap="butt"/>
<line x1="1149.6" y1="215.05" x2="1157.6" y2="215.05" stroke="#000" stroke-width="1.6" stroke-linecap="butt"/>
<circle cx="1173.2" cy="214.34" r="4.25" fill="#9690DA" stroke="#6a6a6a" stroke-width="1.3"/>
<circle cx="1179.2" cy="214.69" r="4.25" fill="#9690DA" stroke="#6a6a6a" stroke-width="1.3"/>
<circle cx="1176.2" cy="215.05" r="4.25" fill="#9690DA" stroke="#6a6a6a" stroke-width="1.3"/>
<circle cx="1174.2" cy="215.75" r="4.25" fill="#9690DA" stroke="#6a6a6a" stroke-width="1.3"/>
<circle cx="1178.2" cy="215.4" r="4.25" fill="#9690DA" stroke="#6a6a6a" stroke-width="1.3"/>
<line x1="1168.7" y1="215.05" x2="1183.7" y2="215.05" stroke="#000" stroke-width="2.0" stroke-linecap="butt"/>
<line x1="1176.2" y1="214.69" x2="1176.2" y2="215.4" stroke="#000" stroke-width="1.6" stroke-linecap="butt"/>
<line x1="1172.2" y1="214.69" x2="1180.2" y2="214.69" stroke="#000" stroke-width="1.6" stroke-linecap="butt"/>
<line x1="1172.2" y1="215.4" x2="1180.2" y2="215.4" stroke="#000" stroke-width="1.6" stroke-linecap="butt"/>
<circle cx="1213.48" cy="191.7" r="4.25" fill="#F9BB17" stroke="#6a6a6a" stroke-width="1.3"/>
<circle cx="1211.48" cy="216.46" r="4.25" fill="#F9BB17" stroke="#6a6a6a" stroke-width="1.3"/>
<circle cx="1215.48" cy="217.17" r="4.25" fill="#F9BB17" stroke="#6a6a6a" stroke-width="1.3"/>
<circle cx="1212.48" cy="218.23" r="4.25" fill="#F9BB17" stroke="#6a6a6a" stroke-width="1.3"/>
<circle cx="1214.48" cy="218.58" r="4.25" fill="#F9BB17" stroke="#6a6a6a" stroke-width="1.3"/>
<line x1="1205.98" y1="212.92" x2="1220.98" y2="212.92" stroke="#000" stroke-width="2.0" stroke-linecap="butt"/>
<line x1="1213.48" y1="207.97" x2="1213.48" y2="217.88" stroke="#000" stroke-width="1.6" stroke-linecap="butt"/>
<line x1="1209.48" y1="207.97" x2="1217.48" y2="207.97" stroke="#000" stroke-width="1.6" stroke-linecap="butt"/>
<line x1="1209.48" y1="217.88" x2="1217.48" y2="217.88" stroke="#000" stroke-width="1.6" stroke-linecap="butt"/>
<circle cx="1233.08" cy="218.23" r="4.25" fill="#9690DA" stroke="#6a6a6a" stroke-width="1.3"/>
<circle cx="1239.08" cy="218.58" r="4.25" fill="#9690DA" stroke="#6a6a6a" stroke-width="1.3"/>
<circle cx="1236.08" cy="218.58" r="4.25" fill="#9690DA" stroke="#6a6a6a" stroke-width="1.3"/>
<circle cx="1234.08" cy="218.94" r="4.25" fill="#9690DA" stroke="#6a6a6a" stroke-width="1.3"/>
<circle cx="1238.08" cy="218.94" r="4.25" fill="#9690DA" stroke="#6a6a6a" stroke-width="1.3"/>
<line x1="1228.58" y1="218.58" x2="1243.58" y2="218.58" stroke="#000" stroke-width="2.0" stroke-linecap="butt"/>
<line x1="1236.08" y1="218.23" x2="1236.08" y2="218.94" stroke="#000" stroke-width="1.6" stroke-linecap="butt"/>
<line x1="1232.08" y1="218.23" x2="1240.08" y2="218.23" stroke="#000" stroke-width="1.6" stroke-linecap="butt"/>
<line x1="1232.08" y1="218.94" x2="1240.08" y2="218.94" stroke="#000" stroke-width="1.6" stroke-linecap="butt"/>
<path d="M855.8 47.1V37.3H882V47.1" fill="none" stroke="#000" stroke-width="1.8"/>
<text x="873.6" y="33.5" font-size="12.2" text-anchor="middle" fill="#111"><tspan font-style="italic">P</tspan> = 0.0079</text>
<path d="M914.5 143.5V133.5H940.2V143.5" fill="none" stroke="#000" stroke-width="1.8"/>
<text x="936.5" y="128.9" font-size="12.2" text-anchor="middle" fill="#111"><tspan font-style="italic">P</tspan> = 0.0079</text>
<path d="M1213 184.3V174.9H1238.8V184.3" fill="none" stroke="#000" stroke-width="1.8"/>
<text x="1232" y="169.7" font-size="12.2" text-anchor="middle" fill="#111"><tspan font-style="italic">P</tspan> = 0.0079</text>
<circle cx="1091.1" cy="60.3" r="4.5" fill="#F9BB17" stroke="#555" stroke-width="1.3"/>
<text x="1108.5" y="66" font-size="15.6" font-weight="bold" text-anchor="start" fill="#000">Nicotine</text>
<circle cx="1091.1" cy="83.8" r="4.5" fill="#9690DA" stroke="#555" stroke-width="1.3"/>
<text x="1108.5" y="89.5" font-size="15.6" font-weight="bold" text-anchor="start" fill="#000">Nicotine + GW4869</text>
<text x="16" y="404" font-size="35" font-weight="bold" fill="#2b2b2b">d</text>
<rect x="147.25" y="356.6" width="372.5" height="34.9" fill="none" stroke="#000" stroke-width="4.5"/>
<text x="156.5" y="381" font-size="18.5" font-weight="normal" text-anchor="start" fill="#000">Organoids from drinking mouse model (d-f)</text>
<text x="171.5" y="421.9" font-size="15.5" font-weight="bold" font-style="italic">Prkaa1<tspan font-size="12.5" font-style="normal" font-weight="normal" dy="-7">fl/fl</tspan></text>
<text x="357.2" y="421.8" font-size="15.5" font-weight="bold" font-style="italic">Prkaa1<tspan font-size="12.5" font-style="normal" font-weight="normal" dy="-7">ΔIE</tspan></text>
<line x1="142.3" y1="434.8" x2="255" y2="434.8" stroke="#000" stroke-width="2.7" stroke-linecap="butt"/>
<line x1="278.5" y1="434.8" x2="504.7" y2="434.8" stroke="#000" stroke-width="2.7" stroke-linecap="butt"/>
<text x="225.8" y="457.3" font-size="15.4" font-weight="bold" text-anchor="start" fill="#000">LV-Ctrl</text>
<text x="413.7" y="456.7" font-size="15.4" font-weight="bold">LV-<tspan font-style="italic">Smpd3</tspan></text>
<line x1="142.3" y1="467.3" x2="379.3" y2="467.3" stroke="#000" stroke-width="2.7" stroke-linecap="butt"/>
<line x1="398.3" y1="467.3" x2="510.9" y2="467.3" stroke="#000" stroke-width="2.7" stroke-linecap="butt"/>
<text x="531.2" y="483.4" font-size="15.4" font-weight="normal" text-anchor="start" fill="#000">kDa</text>
<defs>
<filter id="bd" x="-30%" y="-60%" width="160%" height="220%"><feGaussianBlur stdDeviation="2.6"/><feComponentTransfer><feFuncA type="linear" slope="1.5"/></feComponentTransfer></filter>
<filter id="bd2" x="-10%" y="-60%" width="120%" height="220%"><feGaussianBlur stdDeviation="2.3"/><feComponentTransfer><feFuncA type="linear" slope="1.45"/></feComponentTransfer></filter>
<filter id="bs" x="-30%" y="-60%" width="160%" height="220%"><feGaussianBlur stdDeviation="2.2"/></filter>
<filter id="bh" x="-50%" y="-100%" width="200%" height="300%"><feGaussianBlur stdDeviation="5"/></filter>
<filter id="nz" x="0" y="0" width="100%" height="100%"><feTurbulence type="fractalNoise" baseFrequency="0.9" numOctaves="1" seed="3"/><feColorMatrix type="matrix" values="0 0 0 0 0  0 0 0 0 0  0 0 0 0 0  0 0 0 -2.2 1.25"/></filter>
<clipPath id="c1"><rect x="143" y="477.3" width="380" height="54.6"/></clipPath>
<clipPath id="c2"><rect x="143" y="540.4" width="379" height="51.7"/></clipPath>
<clipPath id="c3"><rect x="143" y="601" width="378.5" height="52"/></clipPath>
<clipPath id="c4"><rect x="143" y="661.8" width="378.5" height="51.9"/></clipPath>
</defs>
<rect x="143.35" y="477.35" width="379.5" height="54.5" fill="#f2f2f2"/>
<g clip-path="url(#c1)">
<rect x="143" y="477" width="380" height="55" filter="url(#nz)" opacity="0.06"/>
<ellipse cx="166" cy="512" rx="22" ry="13" fill="#000" opacity="0.35" filter="url(#bh)"/>
<ellipse cx="201" cy="507" rx="21" ry="12" fill="#000" opacity="0.3" filter="url(#bh)"/>
<ellipse cx="243" cy="507" rx="16" ry="7" fill="#000" opacity="0.2" filter="url(#bh)"/>
<ellipse cx="456" cy="504" rx="70" ry="15" fill="#000" opacity="0.4" filter="url(#bh)"/>
<ellipse cx="522" cy="505" rx="6" ry="22" fill="#000" opacity="0.35" filter="url(#bh)"/>
<ellipse cx="164.5" cy="512.3" rx="15.8" ry="9.3" fill="#000" transform="rotate(-8 164.5 512.3)" filter="url(#bd)"/>
<ellipse cx="200.8" cy="507.3" rx="17" ry="8.2" fill="#000" transform="rotate(-6 200.8 507.3)" filter="url(#bd)"/>
<rect x="170" y="505" width="25" height="10" filter="url(#bs)" opacity="0.9"/>
<ellipse cx="242.3" cy="507.2" rx="13.2" ry="4.6" fill="#1c1c1c" transform="rotate(-3 242.3 507.2)" filter="url(#bd)"/>
<ellipse cx="414.5" cy="505.5" rx="19" ry="8.8" fill="#000" filter="url(#bd)"/>
<ellipse cx="452.5" cy="503.5" rx="19.5" ry="10.6" fill="#000" filter="url(#bd)"/>
<ellipse cx="495" cy="503.8" rx="22" ry="9.8" fill="#000" filter="url(#bd)"/>
<rect x="420" y="500" width="80" height="9" filter="url(#bs)"/>
</g>
<rect x="143.35" y="477.35" width="379.5" height="54.5" fill="none" stroke="#000" stroke-width="1.8"/>
<rect x="143.35" y="540.45" width="378.3" height="51.6" fill="#ececec"/>
<g clip-path="url(#c2)">
<ellipse cx="167" cy="566" rx="18" ry="8" fill="#000" opacity="0.15" filter="url(#bh)"/>
<rect x="153" y="561" width="29" height="10" rx="5" fill="#3a3a3a" filter="url(#bs)"/>
<rect x="191.5" y="562" width="32" height="9" rx="4.5" fill="#545454" filter="url(#bs)"/>
<rect x="233" y="562.5" width="29" height="8" rx="4" fill="#8e8e8e" filter="url(#bs)"/>
</g>
<rect x="143.35" y="540.45" width="378.3" height="51.6" fill="none" stroke="#000" stroke-width="1.8"/>
<rect x="143.35" y="601.05" width="377.9" height="51.9" fill="#eeeeee"/>
<g clip-path="url(#c3)">
<ellipse cx="166" cy="620" rx="20" ry="14" fill="#000" opacity="0.2" filter="url(#bh)"/>
<ellipse cx="245" cy="624" rx="20" ry="11" fill="#000" opacity="0.18" filter="url(#bh)"/>
<ellipse cx="203" cy="623" rx="18" ry="9" fill="#000" opacity="0.12" filter="url(#bh)"/>
<ellipse cx="165.6" cy="621.5" rx="16.5" ry="10" fill="#000" filter="url(#bd)"/>
<ellipse cx="202.2" cy="624.3" rx="15.5" ry="6.6" fill="#141414" filter="url(#bd)"/>
<ellipse cx="245.3" cy="624.2" rx="17.5" ry="8.2" fill="#0a0a0a" filter="url(#bd)"/>
</g>
<rect x="143.35" y="601.05" width="377.9" height="51.9" fill="none" stroke="#000" stroke-width="1.8"/>
<rect x="143.35" y="661.85" width="377.9" height="51.8" fill="#f3f3f3"/>
<g clip-path="url(#c4)">
<ellipse cx="330" cy="687" rx="185" ry="13" fill="#000" opacity="0.3" filter="url(#bh)"/>
<ellipse cx="240" cy="704" rx="80" ry="3" fill="#000" opacity="0.08" filter="url(#bs)"/>
<ellipse cx="440" cy="705" rx="80" ry="3" fill="#000" opacity="0.1" filter="url(#bs)"/>
<path d="M146 688 L152 684 L160 681.5 L174 680.5 L188 682 L193 684.5 L198 683.5 L211 683 L224 683.5 L232 684 L247 682 L262 678.5 L272 676.5 L288 675 L305 675.5 L311 676.5 L318 676 L333 674.5 L346 676.5 L352 678.5 L358 676.5 L372 674.5 L386 677 L391.5 680.5 L397 678.5 L410 677.5 L424 678.5 L429.5 683.5 L435 678.5 L450 676.5 L464 678 L468.5 680 L474 676 L491 673.5 L506 675 L511 678 L515 684 L515 687 L511 690 L506 691.5 L491 692.8 L474 691 L468.5 688 L464 688.5 L450 688.7 L435 688.5 L429.5 686.6 L424 689.5 L410 690.7 L397 691 L391.5 690.7 L386 693 L372 694.8 L358 693.5 L352 691.7 L346 694 L333 697 L318 697 L311 696.5 L305 697 L288 698 L272 697.5 L262 696 L247 693.5 L232 692 L224 692.5 L211 693 L198 693 L193 692 L188 695.5 L174 697 L160 696.5 L152 694 L146 690Z" fill="#000" filter="url(#bd2)"/>
</g>
<rect x="143.35" y="661.85" width="377.9" height="51.8" fill="none" stroke="#000" stroke-width="1.8"/>
<text x="137" y="515.8" font-size="16" font-weight="bold" text-anchor="end" fill="#000">SMPD3</text>
<text x="137" y="568.5" font-size="16" font-weight="bold" text-anchor="end" fill="#000">p-AMPKα</text>
<text x="137" y="629.4" font-size="16" font-weight="bold" text-anchor="end" fill="#000">AMPKα</text>
<text x="137" y="690" font-size="16" font-weight="bold" text-anchor="end" fill="#000">β-ACTIN</text>
<line x1="523.6" y1="522.4" x2="532.3" y2="522.4" stroke="#000" stroke-width="1.4" stroke-linecap="butt"/>
<text x="533.3" y="528.1" font-size="16" font-weight="normal" text-anchor="start" fill="#000">70</text>
<line x1="522.4" y1="551.2" x2="532.3" y2="551.2" stroke="#000" stroke-width="1.4" stroke-linecap="butt"/>
<text x="533.3" y="556.9" font-size="16" font-weight="normal" text-anchor="start" fill="#000">70</text>
<line x1="522" y1="609.5" x2="532.3" y2="609.5" stroke="#000" stroke-width="1.4" stroke-linecap="butt"/>
<text x="533.3" y="615.2" font-size="16" font-weight="normal" text-anchor="start" fill="#000">70</text>
<line x1="522" y1="697.9" x2="532.3" y2="697.9" stroke="#000" stroke-width="1.4" stroke-linecap="butt"/>
<text x="533.3" y="703.6" font-size="16" font-weight="normal" text-anchor="start" fill="#000">40</text>
<text x="684.5" y="404" font-size="35" font-weight="bold" fill="#2b2b2b">e</text>
<line x1="772.5" y1="420.9" x2="772.5" y2="600.25" stroke="#000" stroke-width="2.9" stroke-linecap="butt"/>
<line x1="767.05" y1="598.8" x2="772.5" y2="598.8" stroke="#000" stroke-width="2.9" stroke-linecap="butt"/>
<text x="764.55" y="604.8" font-size="15.3" font-weight="bold" text-anchor="end" fill="#000">0</text>
<line x1="767.05" y1="539.87" x2="772.5" y2="539.87" stroke="#000" stroke-width="2.9" stroke-linecap="butt"/>
<text x="764.55" y="545.87" font-size="15.3" font-weight="bold" text-anchor="end" fill="#000">30</text>
<line x1="767.05" y1="480.93" x2="772.5" y2="480.93" stroke="#000" stroke-width="2.9" stroke-linecap="butt"/>
<text x="764.55" y="486.93" font-size="15.3" font-weight="bold" text-anchor="end" fill="#000">60</text>
<line x1="767.05" y1="422" x2="772.5" y2="422" stroke="#000" stroke-width="2.9" stroke-linecap="butt"/>
<text x="764.55" y="428" font-size="15.3" font-weight="bold" text-anchor="end" fill="#000">90</text>
<line x1="767.1" y1="598.8" x2="1185.3" y2="598.8" stroke="#000" stroke-width="2.9" stroke-linecap="butt"/>
<line x1="799.3" y1="598.8" x2="799.3" y2="604.75" stroke="#000" stroke-width="2.9" stroke-linecap="butt"/>
<line x1="858.9" y1="598.8" x2="858.9" y2="604.75" stroke="#000" stroke-width="2.9" stroke-linecap="butt"/>
<line x1="918.5" y1="598.8" x2="918.5" y2="604.75" stroke="#000" stroke-width="2.9" stroke-linecap="butt"/>
<line x1="978.1" y1="598.8" x2="978.1" y2="604.75" stroke="#000" stroke-width="2.9" stroke-linecap="butt"/>
<line x1="1037.7" y1="598.8" x2="1037.7" y2="604.75" stroke="#000" stroke-width="2.9" stroke-linecap="butt"/>
<line x1="1097.3" y1="598.8" x2="1097.3" y2="604.75" stroke="#000" stroke-width="2.9" stroke-linecap="butt"/>
<line x1="1156.9" y1="598.8" x2="1156.9" y2="604.75" stroke="#000" stroke-width="2.9" stroke-linecap="butt"/>
<text x="716" y="506.2" font-size="15.7" font-weight="bold" text-anchor="middle" fill="#000" transform="rotate(-90 716 506.2)">Ceramide in organoids</text>
<text x="735.5" y="512.7" font-size="15.7" font-weight="bold" text-anchor="middle" fill="#000" transform="rotate(-90 735.5 512.7)">(μmol/g protein)</text>
<text x="804.9" y="617.8" font-size="16.6" font-weight="bold" text-anchor="end" fill="#000" transform="rotate(-45 804.9 617.8)">Total</text>
<text x="864.5" y="617.8" font-size="16.6" font-weight="bold" text-anchor="end" fill="#000" transform="rotate(-45 864.5 617.8)">Cer (d18:1/16:0)</text>
<text x="924.1" y="617.8" font-size="16.6" font-weight="bold" text-anchor="end" fill="#000" transform="rotate(-45 924.1 617.8)">Cer (d18:1/18:0)</text>
<text x="983.7" y="617.8" font-size="16.6" font-weight="bold" text-anchor="end" fill="#000" transform="rotate(-45 983.7 617.8)">Cer (d18:1/20:0)</text>
<text x="1043.3" y="617.8" font-size="16.6" font-weight="bold" text-anchor="end" fill="#000" transform="rotate(-45 1043.3 617.8)">Cer (d18:1/22:0)</text>
<text x="1102.9" y="617.8" font-size="16.6" font-weight="bold" text-anchor="end" fill="#000" transform="rotate(-45 1102.9 617.8)">Cer (d18:1/24:0)</text>
<text x="1162.5" y="617.8" font-size="16.6" font-weight="bold" text-anchor="end" fill="#000" transform="rotate(-45 1162.5 617.8)">Cer (d18:1/24:1)</text>
<circle cx="782.8" cy="488.79" r="4.15" fill="#F7C46E" stroke="#5c5c5c" stroke-width="1.6"/>
<circle cx="784" cy="492.72" r="4.15" fill="#F7C46E" stroke="#5c5c5c" stroke-width="1.6"/>
<circle cx="781.6" cy="498.61" r="4.15" fill="#F7C46E" stroke="#5c5c5c" stroke-width="1.6"/>
<circle cx="783.4" cy="504.51" r="4.15" fill="#F7C46E" stroke="#5c5c5c" stroke-width="1.6"/>
<circle cx="782.8" cy="510.4" r="4.15" fill="#F7C46E" stroke="#5c5c5c" stroke-width="1.6"/>
<line x1="777.3" y1="498.61" x2="788.3" y2="498.61" stroke="#000" stroke-width="2.0" stroke-linecap="butt"/>
<line x1="782.8" y1="495.47" x2="782.8" y2="501.76" stroke="#000" stroke-width="1.6" stroke-linecap="butt"/>
<line x1="779.6" y1="495.47" x2="786" y2="495.47" stroke="#000" stroke-width="1.6" stroke-linecap="butt"/>
<line x1="779.6" y1="501.76" x2="786" y2="501.76" stroke="#000" stroke-width="1.6" stroke-linecap="butt"/>
<circle cx="799.3" cy="523.17" r="4.15" fill="#5CC2EA" stroke="#5c5c5c" stroke-width="1.6"/>
<circle cx="800.5" cy="528.08" r="4.15" fill="#5CC2EA" stroke="#5c5c5c" stroke-width="1.6"/>
<circle cx="798.1" cy="533.97" r="4.15" fill="#5CC2EA" stroke="#5c5c5c" stroke-width="1.6"/>
<circle cx="799.9" cy="537.9" r="4.15" fill="#5CC2EA" stroke="#5c5c5c" stroke-width="1.6"/>
<circle cx="799.3" cy="541.83" r="4.15" fill="#5CC2EA" stroke="#5c5c5c" stroke-width="1.6"/>
<line x1="793.8" y1="534.17" x2="804.8" y2="534.17" stroke="#000" stroke-width="2.0" stroke-linecap="butt"/>
<line x1="799.3" y1="531.03" x2="799.3" y2="537.31" stroke="#000" stroke-width="1.6" stroke-linecap="butt"/>
<line x1="796.1" y1="531.03" x2="802.5" y2="531.03" stroke="#000" stroke-width="1.6" stroke-linecap="butt"/>
<line x1="796.1" y1="537.31" x2="802.5" y2="537.31" stroke="#000" stroke-width="1.6" stroke-linecap="butt"/>
<circle cx="816.3" cy="467.18" r="4.15" fill="#EA5B4D" stroke="#5c5c5c" stroke-width="1.6"/>
<circle cx="817.5" cy="474.06" r="4.15" fill="#EA5B4D" stroke="#5c5c5c" stroke-width="1.6"/>
<circle cx="815.1" cy="478.97" r="4.15" fill="#EA5B4D" stroke="#5c5c5c" stroke-width="1.6"/>
<circle cx="816.9" cy="482.9" r="4.15" fill="#EA5B4D" stroke="#5c5c5c" stroke-width="1.6"/>
<circle cx="816.3" cy="487.81" r="4.15" fill="#EA5B4D" stroke="#5c5c5c" stroke-width="1.6"/>
<line x1="810.8" y1="478.58" x2="821.8" y2="478.58" stroke="#000" stroke-width="2.0" stroke-linecap="butt"/>
<line x1="816.3" y1="475.83" x2="816.3" y2="481.33" stroke="#000" stroke-width="1.6" stroke-linecap="butt"/>
<line x1="813.1" y1="475.83" x2="819.5" y2="475.83" stroke="#000" stroke-width="1.6" stroke-linecap="butt"/>
<line x1="813.1" y1="481.33" x2="819.5" y2="481.33" stroke="#000" stroke-width="1.6" stroke-linecap="butt"/>
<circle cx="842.4" cy="532.4" r="4.15" fill="#F7C46E" stroke="#5c5c5c" stroke-width="1.6"/>
<circle cx="843.6" cy="534.96" r="4.15" fill="#F7C46E" stroke="#5c5c5c" stroke-width="1.6"/>
<circle cx="841.2" cy="540.85" r="4.15" fill="#F7C46E" stroke="#5c5c5c" stroke-width="1.6"/>
<circle cx="843" cy="548.71" r="4.15" fill="#F7C46E" stroke="#5c5c5c" stroke-width="1.6"/>
<circle cx="842.4" cy="556.56" r="4.15" fill="#F7C46E" stroke="#5c5c5c" stroke-width="1.6"/>
<line x1="836.9" y1="540.65" x2="847.9" y2="540.65" stroke="#000" stroke-width="2.0" stroke-linecap="butt"/>
<line x1="842.4" y1="537.12" x2="842.4" y2="544.19" stroke="#000" stroke-width="1.6" stroke-linecap="butt"/>
<line x1="839.2" y1="537.12" x2="845.6" y2="537.12" stroke="#000" stroke-width="1.6" stroke-linecap="butt"/>
<line x1="839.2" y1="544.19" x2="845.6" y2="544.19" stroke="#000" stroke-width="1.6" stroke-linecap="butt"/>
<circle cx="858.9" cy="558.53" r="4.15" fill="#5CC2EA" stroke="#5c5c5c" stroke-width="1.6"/>
<circle cx="860.1" cy="561.48" r="4.15" fill="#5CC2EA" stroke="#5c5c5c" stroke-width="1.6"/>
<circle cx="857.7" cy="567.37" r="4.15" fill="#5CC2EA" stroke="#5c5c5c" stroke-width="1.6"/>
<line x1="853.4" y1="563.83" x2="864.4" y2="563.83" stroke="#000" stroke-width="2.0" stroke-linecap="butt"/>
<line x1="858.9" y1="562.06" x2="858.9" y2="565.6" stroke="#000" stroke-width="1.6" stroke-linecap="butt"/>
<line x1="855.7" y1="562.06" x2="862.1" y2="562.06" stroke="#000" stroke-width="1.6" stroke-linecap="butt"/>
<line x1="855.7" y1="565.6" x2="862.1" y2="565.6" stroke="#000" stroke-width="1.6" stroke-linecap="butt"/>
<circle cx="875.9" cy="520.22" r="4.15" fill="#EA5B4D" stroke="#5c5c5c" stroke-width="1.6"/>
<circle cx="877.1" cy="525.13" r="4.15" fill="#EA5B4D" stroke="#5c5c5c" stroke-width="1.6"/>
<circle cx="874.7" cy="529.46" r="4.15" fill="#EA5B4D" stroke="#5c5c5c" stroke-width="1.6"/>
<circle cx="876.5" cy="533.97" r="4.15" fill="#EA5B4D" stroke="#5c5c5c" stroke-width="1.6"/>
<circle cx="875.9" cy="538.88" r="4.15" fill="#EA5B4D" stroke="#5c5c5c" stroke-width="1.6"/>
<line x1="870.4" y1="529.65" x2="881.4" y2="529.65" stroke="#000" stroke-width="2.0" stroke-linecap="butt"/>
<line x1="875.9" y1="526.9" x2="875.9" y2="532.4" stroke="#000" stroke-width="1.6" stroke-linecap="butt"/>
<line x1="872.7" y1="526.9" x2="879.1" y2="526.9" stroke="#000" stroke-width="1.6" stroke-linecap="butt"/>
<line x1="872.7" y1="532.4" x2="879.1" y2="532.4" stroke="#000" stroke-width="1.6" stroke-linecap="butt"/>
<circle cx="902" cy="590.94" r="4.15" fill="#F7C46E" stroke="#5c5c5c" stroke-width="1.6"/>
<circle cx="903.2" cy="591.92" r="4.15" fill="#F7C46E" stroke="#5c5c5c" stroke-width="1.6"/>
<circle cx="900.8" cy="592.91" r="4.15" fill="#F7C46E" stroke="#5c5c5c" stroke-width="1.6"/>
<circle cx="902.6" cy="593.89" r="4.15" fill="#F7C46E" stroke="#5c5c5c" stroke-width="1.6"/>
<circle cx="902" cy="592.51" r="4.15" fill="#F7C46E" stroke="#5c5c5c" stroke-width="1.6"/>
<line x1="896.5" y1="592.51" x2="907.5" y2="592.51" stroke="#000" stroke-width="2.0" stroke-linecap="butt"/>
<line x1="902" y1="591.92" x2="902" y2="593.1" stroke="#000" stroke-width="1.6" stroke-linecap="butt"/>
<line x1="898.8" y1="591.92" x2="905.2" y2="591.92" stroke="#000" stroke-width="1.6" stroke-linecap="butt"/>
<line x1="898.8" y1="593.1" x2="905.2" y2="593.1" stroke="#000" stroke-width="1.6" stroke-linecap="butt"/>
<circle cx="918.5" cy="591.92" r="4.15" fill="#5CC2EA" stroke="#5c5c5c" stroke-width="1.6"/>
<circle cx="919.7" cy="592.91" r="4.15" fill="#5CC2EA" stroke="#5c5c5c" stroke-width="1.6"/>
<circle cx="917.3" cy="593.89" r="4.15" fill="#5CC2EA" stroke="#5c5c5c" stroke-width="1.6"/>
<circle cx="919.1" cy="594.48" r="4.15" fill="#5CC2EA" stroke="#5c5c5c" stroke-width="1.6"/>
<circle cx="918.5" cy="592.91" r="4.15" fill="#5CC2EA" stroke="#5c5c5c" stroke-width="1.6"/>
<line x1="913" y1="593.3" x2="924" y2="593.3" stroke="#000" stroke-width="2.0" stroke-linecap="butt"/>
<line x1="918.5" y1="592.71" x2="918.5" y2="593.89" stroke="#000" stroke-width="1.6" stroke-linecap="butt"/>
<line x1="915.3" y1="592.71" x2="921.7" y2="592.71" stroke="#000" stroke-width="1.6" stroke-linecap="butt"/>
<line x1="915.3" y1="593.89" x2="921.7" y2="593.89" stroke="#000" stroke-width="1.6" stroke-linecap="butt"/>
<circle cx="935.5" cy="590.55" r="4.15" fill="#EA5B4D" stroke="#5c5c5c" stroke-width="1.6"/>
<circle cx="936.7" cy="591.34" r="4.15" fill="#EA5B4D" stroke="#5c5c5c" stroke-width="1.6"/>
<circle cx="934.3" cy="592.12" r="4.15" fill="#EA5B4D" stroke="#5c5c5c" stroke-width="1.6"/>
<circle cx="936.1" cy="592.91" r="4.15" fill="#EA5B4D" stroke="#5c5c5c" stroke-width="1.6"/>
<circle cx="935.5" cy="591.92" r="4.15" fill="#EA5B4D" stroke="#5c5c5c" stroke-width="1.6"/>
<line x1="930" y1="591.92" x2="941" y2="591.92" stroke="#000" stroke-width="2.0" stroke-linecap="butt"/>
<line x1="935.5" y1="591.34" x2="935.5" y2="592.51" stroke="#000" stroke-width="1.6" stroke-linecap="butt"/>
<line x1="932.3" y1="591.34" x2="938.7" y2="591.34" stroke="#000" stroke-width="1.6" stroke-linecap="butt"/>
<line x1="932.3" y1="592.51" x2="938.7" y2="592.51" stroke="#000" stroke-width="1.6" stroke-linecap="butt"/>
<circle cx="961.6" cy="590.55" r="4.15" fill="#F7C46E" stroke="#5c5c5c" stroke-width="1.6"/>
<circle cx="962.8" cy="591.34" r="4.15" fill="#F7C46E" stroke="#5c5c5c" stroke-width="1.6"/>
<circle cx="960.4" cy="592.12" r="4.15" fill="#F7C46E" stroke="#5c5c5c" stroke-width="1.6"/>
<circle cx="962.2" cy="592.91" r="4.15" fill="#F7C46E" stroke="#5c5c5c" stroke-width="1.6"/>
<circle cx="961.6" cy="591.92" r="4.15" fill="#F7C46E" stroke="#5c5c5c" stroke-width="1.6"/>
<line x1="956.1" y1="592.12" x2="967.1" y2="592.12" stroke="#000" stroke-width="2.0" stroke-linecap="butt"/>
<line x1="961.6" y1="591.53" x2="961.6" y2="592.71" stroke="#000" stroke-width="1.6" stroke-linecap="butt"/>
<line x1="958.4" y1="591.53" x2="964.8" y2="591.53" stroke="#000" stroke-width="1.6" stroke-linecap="butt"/>
<line x1="958.4" y1="592.71" x2="964.8" y2="592.71" stroke="#000" stroke-width="1.6" stroke-linecap="butt"/>
<circle cx="978.1" cy="590.94" r="4.15" fill="#5CC2EA" stroke="#5c5c5c" stroke-width="1.6"/>
<circle cx="979.3" cy="591.92" r="4.15" fill="#5CC2EA" stroke="#5c5c5c" stroke-width="1.6"/>
<circle cx="976.9" cy="592.91" r="4.15" fill="#5CC2EA" stroke="#5c5c5c" stroke-width="1.6"/>
<circle cx="978.7" cy="593.69" r="4.15" fill="#5CC2EA" stroke="#5c5c5c" stroke-width="1.6"/>
<circle cx="978.1" cy="592.51" r="4.15" fill="#5CC2EA" stroke="#5c5c5c" stroke-width="1.6"/>
<line x1="972.6" y1="592.71" x2="983.6" y2="592.71" stroke="#000" stroke-width="2.0" stroke-linecap="butt"/>
<line x1="978.1" y1="592.12" x2="978.1" y2="593.3" stroke="#000" stroke-width="1.6" stroke-linecap="butt"/>
<line x1="974.9" y1="592.12" x2="981.3" y2="592.12" stroke="#000" stroke-width="1.6" stroke-linecap="butt"/>
<line x1="974.9" y1="593.3" x2="981.3" y2="593.3" stroke="#000" stroke-width="1.6" stroke-linecap="butt"/>
<circle cx="995.1" cy="588" r="4.15" fill="#EA5B4D" stroke="#5c5c5c" stroke-width="1.6"/>
<circle cx="996.3" cy="589.76" r="4.15" fill="#EA5B4D" stroke="#5c5c5c" stroke-width="1.6"/>
<circle cx="993.9" cy="591.34" r="4.15" fill="#EA5B4D" stroke="#5c5c5c" stroke-width="1.6"/>
<circle cx="995.7" cy="592.51" r="4.15" fill="#EA5B4D" stroke="#5c5c5c" stroke-width="1.6"/>
<circle cx="995.1" cy="590.55" r="4.15" fill="#EA5B4D" stroke="#5c5c5c" stroke-width="1.6"/>
<line x1="989.6" y1="590.94" x2="1000.6" y2="590.94" stroke="#000" stroke-width="2.0" stroke-linecap="butt"/>
<line x1="995.1" y1="590.16" x2="995.1" y2="591.73" stroke="#000" stroke-width="1.6" stroke-linecap="butt"/>
<line x1="991.9" y1="590.16" x2="998.3" y2="590.16" stroke="#000" stroke-width="1.6" stroke-linecap="butt"/>
<line x1="991.9" y1="591.73" x2="998.3" y2="591.73" stroke="#000" stroke-width="1.6" stroke-linecap="butt"/>
<circle cx="1021.2" cy="578.17" r="4.15" fill="#F7C46E" stroke="#5c5c5c" stroke-width="1.6"/>
<circle cx="1022.4" cy="579.55" r="4.15" fill="#F7C46E" stroke="#5c5c5c" stroke-width="1.6"/>
<circle cx="1020" cy="581.12" r="4.15" fill="#F7C46E" stroke="#5c5c5c" stroke-width="1.6"/>
<circle cx="1021.8" cy="582.69" r="4.15" fill="#F7C46E" stroke="#5c5c5c" stroke-width="1.6"/>
<circle cx="1021.2" cy="584.07" r="4.15" fill="#F7C46E" stroke="#5c5c5c" stroke-width="1.6"/>
<line x1="1015.7" y1="580.92" x2="1026.7" y2="580.92" stroke="#000" stroke-width="2.0" stroke-linecap="butt"/>
<line x1="1021.2" y1="579.94" x2="1021.2" y2="581.91" stroke="#000" stroke-width="1.6" stroke-linecap="butt"/>
<line x1="1018" y1="579.94" x2="1024.4" y2="579.94" stroke="#000" stroke-width="1.6" stroke-linecap="butt"/>
<line x1="1018" y1="581.91" x2="1024.4" y2="581.91" stroke="#000" stroke-width="1.6" stroke-linecap="butt"/>
<circle cx="1037.7" cy="583.08" r="4.15" fill="#5CC2EA" stroke="#5c5c5c" stroke-width="1.6"/>
<circle cx="1038.9" cy="585.05" r="4.15" fill="#5CC2EA" stroke="#5c5c5c" stroke-width="1.6"/>
<circle cx="1036.5" cy="587.01" r="4.15" fill="#5CC2EA" stroke="#5c5c5c" stroke-width="1.6"/>
<circle cx="1038.3" cy="588.98" r="4.15" fill="#5CC2EA" stroke="#5c5c5c" stroke-width="1.6"/>
<circle cx="1037.7" cy="590.55" r="4.15" fill="#5CC2EA" stroke="#5c5c5c" stroke-width="1.6"/>
<line x1="1032.2" y1="587.21" x2="1043.2" y2="587.21" stroke="#000" stroke-width="2.0" stroke-linecap="butt"/>
<line x1="1037.7" y1="586.03" x2="1037.7" y2="588.39" stroke="#000" stroke-width="1.6" stroke-linecap="butt"/>
<line x1="1034.5" y1="586.03" x2="1040.9" y2="586.03" stroke="#000" stroke-width="1.6" stroke-linecap="butt"/>
<line x1="1034.5" y1="588.39" x2="1040.9" y2="588.39" stroke="#000" stroke-width="1.6" stroke-linecap="butt"/>
<circle cx="1054.7" cy="573.26" r="4.15" fill="#EA5B4D" stroke="#5c5c5c" stroke-width="1.6"/>
<circle cx="1055.9" cy="574.64" r="4.15" fill="#EA5B4D" stroke="#5c5c5c" stroke-width="1.6"/>
<circle cx="1053.5" cy="576.01" r="4.15" fill="#EA5B4D" stroke="#5c5c5c" stroke-width="1.6"/>
<circle cx="1055.3" cy="577.19" r="4.15" fill="#EA5B4D" stroke="#5c5c5c" stroke-width="1.6"/>
<circle cx="1054.7" cy="578.17" r="4.15" fill="#EA5B4D" stroke="#5c5c5c" stroke-width="1.6"/>
<line x1="1049.2" y1="576.01" x2="1060.2" y2="576.01" stroke="#000" stroke-width="2.0" stroke-linecap="butt"/>
<line x1="1054.7" y1="575.23" x2="1054.7" y2="576.8" stroke="#000" stroke-width="1.6" stroke-linecap="butt"/>
<line x1="1051.5" y1="575.23" x2="1057.9" y2="575.23" stroke="#000" stroke-width="1.6" stroke-linecap="butt"/>
<line x1="1051.5" y1="576.8" x2="1057.9" y2="576.8" stroke="#000" stroke-width="1.6" stroke-linecap="butt"/>
<circle cx="1080.8" cy="588.98" r="4.15" fill="#F7C46E" stroke="#5c5c5c" stroke-width="1.6"/>
<circle cx="1082" cy="589.96" r="4.15" fill="#F7C46E" stroke="#5c5c5c" stroke-width="1.6"/>
<circle cx="1079.6" cy="590.94" r="4.15" fill="#F7C46E" stroke="#5c5c5c" stroke-width="1.6"/>
<circle cx="1081.4" cy="591.92" r="4.15" fill="#F7C46E" stroke="#5c5c5c" stroke-width="1.6"/>
<circle cx="1080.8" cy="592.91" r="4.15" fill="#F7C46E" stroke="#5c5c5c" stroke-width="1.6"/>
<line x1="1075.3" y1="590.94" x2="1086.3" y2="590.94" stroke="#000" stroke-width="2.0" stroke-linecap="butt"/>
<line x1="1080.8" y1="590.35" x2="1080.8" y2="591.53" stroke="#000" stroke-width="1.6" stroke-linecap="butt"/>
<line x1="1077.6" y1="590.35" x2="1084" y2="590.35" stroke="#000" stroke-width="1.6" stroke-linecap="butt"/>
<line x1="1077.6" y1="591.53" x2="1084" y2="591.53" stroke="#000" stroke-width="1.6" stroke-linecap="butt"/>
<circle cx="1097.3" cy="591.34" r="4.15" fill="#5CC2EA" stroke="#5c5c5c" stroke-width="1.6"/>
<circle cx="1098.5" cy="592.51" r="4.15" fill="#5CC2EA" stroke="#5c5c5c" stroke-width="1.6"/>
<circle cx="1096.1" cy="593.3" r="4.15" fill="#5CC2EA" stroke="#5c5c5c" stroke-width="1.6"/>
<circle cx="1097.9" cy="594.09" r="4.15" fill="#5CC2EA" stroke="#5c5c5c" stroke-width="1.6"/>
<circle cx="1097.3" cy="594.87" r="4.15" fill="#5CC2EA" stroke="#5c5c5c" stroke-width="1.6"/>
<line x1="1091.8" y1="593.3" x2="1102.8" y2="593.3" stroke="#000" stroke-width="2.0" stroke-linecap="butt"/>
<line x1="1097.3" y1="592.71" x2="1097.3" y2="593.89" stroke="#000" stroke-width="1.6" stroke-linecap="butt"/>
<line x1="1094.1" y1="592.71" x2="1100.5" y2="592.71" stroke="#000" stroke-width="1.6" stroke-linecap="butt"/>
<line x1="1094.1" y1="593.89" x2="1100.5" y2="593.89" stroke="#000" stroke-width="1.6" stroke-linecap="butt"/>
<circle cx="1114.3" cy="585.05" r="4.15" fill="#EA5B4D" stroke="#5c5c5c" stroke-width="1.6"/>
<circle cx="1115.5" cy="586.62" r="4.15" fill="#EA5B4D" stroke="#5c5c5c" stroke-width="1.6"/>
<circle cx="1113.1" cy="588.39" r="4.15" fill="#EA5B4D" stroke="#5c5c5c" stroke-width="1.6"/>
<circle cx="1114.9" cy="589.76" r="4.15" fill="#EA5B4D" stroke="#5c5c5c" stroke-width="1.6"/>
<circle cx="1114.3" cy="590.94" r="4.15" fill="#EA5B4D" stroke="#5c5c5c" stroke-width="1.6"/>
<line x1="1108.8" y1="588.39" x2="1119.8" y2="588.39" stroke="#000" stroke-width="2.0" stroke-linecap="butt"/>
<line x1="1114.3" y1="587.41" x2="1114.3" y2="589.37" stroke="#000" stroke-width="1.6" stroke-linecap="butt"/>
<line x1="1111.1" y1="587.41" x2="1117.5" y2="587.41" stroke="#000" stroke-width="1.6" stroke-linecap="butt"/>
<line x1="1111.1" y1="589.37" x2="1117.5" y2="589.37" stroke="#000" stroke-width="1.6" stroke-linecap="butt"/>
<circle cx="1140.4" cy="596.25" r="4.15" fill="#F7C46E" stroke="#5c5c5c" stroke-width="1.6"/>
<circle cx="1141.6" cy="596.64" r="4.15" fill="#F7C46E" stroke="#5c5c5c" stroke-width="1.6"/>
<circle cx="1139.2" cy="597.03" r="4.15" fill="#F7C46E" stroke="#5c5c5c" stroke-width="1.6"/>
<circle cx="1141" cy="597.42" r="4.15" fill="#F7C46E" stroke="#5c5c5c" stroke-width="1.6"/>
<circle cx="1140.4" cy="597.62" r="4.15" fill="#F7C46E" stroke="#5c5c5c" stroke-width="1.6"/>
<line x1="1134.9" y1="597.03" x2="1145.9" y2="597.03" stroke="#000" stroke-width="2.0" stroke-linecap="butt"/>
<line x1="1140.4" y1="596.84" x2="1140.4" y2="597.23" stroke="#000" stroke-width="1.6" stroke-linecap="butt"/>
<line x1="1137.2" y1="596.84" x2="1143.6" y2="596.84" stroke="#000" stroke-width="1.6" stroke-linecap="butt"/>
<line x1="1137.2" y1="597.23" x2="1143.6" y2="597.23" stroke="#000" stroke-width="1.6" stroke-linecap="butt"/>
<circle cx="1156.9" cy="597.03" r="4.15" fill="#5CC2EA" stroke="#5c5c5c" stroke-width="1.6"/>
<circle cx="1158.1" cy="597.42" r="4.15" fill="#5CC2EA" stroke="#5c5c5c" stroke-width="1.6"/>
<circle cx="1155.7" cy="597.62" r="4.15" fill="#5CC2EA" stroke="#5c5c5c" stroke-width="1.6"/>
<circle cx="1157.5" cy="597.82" r="4.15" fill="#5CC2EA" stroke="#5c5c5c" stroke-width="1.6"/>
<circle cx="1156.9" cy="598.01" r="4.15" fill="#5CC2EA" stroke="#5c5c5c" stroke-width="1.6"/>
<line x1="1151.4" y1="597.62" x2="1162.4" y2="597.62" stroke="#000" stroke-width="2.0" stroke-linecap="butt"/>
<line x1="1156.9" y1="597.42" x2="1156.9" y2="597.82" stroke="#000" stroke-width="1.6" stroke-linecap="butt"/>
<line x1="1153.7" y1="597.42" x2="1160.1" y2="597.42" stroke="#000" stroke-width="1.6" stroke-linecap="butt"/>
<line x1="1153.7" y1="597.82" x2="1160.1" y2="597.82" stroke="#000" stroke-width="1.6" stroke-linecap="butt"/>
<circle cx="1173.9" cy="593.89" r="4.15" fill="#EA5B4D" stroke="#5c5c5c" stroke-width="1.6"/>
<circle cx="1175.1" cy="594.48" r="4.15" fill="#EA5B4D" stroke="#5c5c5c" stroke-width="1.6"/>
<circle cx="1172.7" cy="595.07" r="4.15" fill="#EA5B4D" stroke="#5c5c5c" stroke-width="1.6"/>
<circle cx="1174.5" cy="595.66" r="4.15" fill="#EA5B4D" stroke="#5c5c5c" stroke-width="1.6"/>
<circle cx="1173.9" cy="596.05" r="4.15" fill="#EA5B4D" stroke="#5c5c5c" stroke-width="1.6"/>
<line x1="1168.4" y1="595.07" x2="1179.4" y2="595.07" stroke="#000" stroke-width="2.0" stroke-linecap="butt"/>
<line x1="1173.9" y1="594.67" x2="1173.9" y2="595.46" stroke="#000" stroke-width="1.6" stroke-linecap="butt"/>
<line x1="1170.7" y1="594.67" x2="1177.1" y2="594.67" stroke="#000" stroke-width="1.6" stroke-linecap="butt"/>
<line x1="1170.7" y1="595.46" x2="1177.1" y2="595.46" stroke="#000" stroke-width="1.6" stroke-linecap="butt"/>
<path d="M799.7 449.7V441H816.3V449.7" fill="none" stroke="#000" stroke-width="1.8"/>
<text x="817.5" y="434.2" font-size="12.2" text-anchor="middle" fill="#111"><tspan font-style="italic">P</tspan> &lt; 0.0001</text>
<path d="M782.9 474.7V466.7H799.7V474.7" fill="none" stroke="#000" stroke-width="1.8"/>
<text x="805" y="461.5" font-size="12.2" text-anchor="middle" fill="#111"><tspan font-style="italic">P</tspan> = 0.0237</text>
<path d="M858.9 500.2V492.2H875.5V500.2" fill="none" stroke="#000" stroke-width="1.8"/>
<text x="880.8" y="486.5" font-size="12.2" text-anchor="middle" fill="#111"><tspan font-style="italic">P</tspan> &lt; 0.0001</text>
<path d="M842.5 525.5V517.3H858.9V525.5" fill="none" stroke="#000" stroke-width="1.8"/>
<text x="845.2" y="513.4" font-size="12.2" text-anchor="middle" fill="#111"><tspan font-style="italic">P</tspan> = 0.0121</text>
<path d="M1037.6 546.3V538.1H1054.1V546.3" fill="none" stroke="#000" stroke-width="1.8"/>
<text x="1044.6" y="533.1" font-size="12.2" text-anchor="middle" fill="#111"><tspan font-style="italic">P</tspan> &lt; 0.0001</text>
<path d="M1020.5 570.5V563H1037.2V570.5" fill="none" stroke="#000" stroke-width="1.8"/>
<text x="1016" y="559.8" font-size="12.2" text-anchor="middle" fill="#111"><tspan font-style="italic">P</tspan> = 0.0237</text>
<path d="M1098.2 558V550.1H1114.8V558" fill="none" stroke="#000" stroke-width="1.8"/>
<text x="1108.9" y="545.6" font-size="12.2" text-anchor="middle" fill="#111"><tspan font-style="italic">P</tspan> &lt; 0.0001</text>
<path d="M1080.7 579.2V571.2H1098.2V579.2" fill="none" stroke="#000" stroke-width="1.8"/>
<text x="1089.4" y="569.2" font-size="12.2" text-anchor="middle" fill="#111"><tspan font-style="italic">P</tspan> = 0.0089</text>
<path d="M1156.2 583.7V575.5H1173.4V583.7" fill="none" stroke="#000" stroke-width="1.8"/>
<text x="1164.9" y="571.2" font-size="12.2" text-anchor="middle" fill="#111"><tspan font-style="italic">P</tspan> = 0.0001</text>
<circle cx="1006.5" cy="418.6" r="4.6" fill="#F7C46E" stroke="#555" stroke-width="1.3"/>
<text x="1026" y="425.6" font-size="15.2" font-weight="bold" xml:space="preserve"><tspan font-style="italic">Prkaa1</tspan><tspan font-size="10.6" dy="-6.5">fl/fl</tspan><tspan dy="6.5" dx="1.8"> + LV-Ctrl</tspan></text>
<circle cx="1006.5" cy="442.3" r="4.6" fill="#5CC2EA" stroke="#555" stroke-width="1.3"/>
<text x="1024" y="448" font-size="15.2" font-weight="bold" xml:space="preserve"><tspan font-style="italic">Prkaa1</tspan><tspan font-size="9.1" dy="-5.6">ΔIE</tspan><tspan dy="5.6" dx="3.5"> + LV-Ctrl</tspan></text>
<circle cx="1006.5" cy="466.7" r="4.6" fill="#EA5B4D" stroke="#555" stroke-width="1.3"/>
<text x="1024" y="471.6" font-size="15.2" font-weight="bold" xml:space="preserve"><tspan font-style="italic">Prkaa1</tspan><tspan font-size="9.1" dy="-5.6">ΔIE</tspan><tspan dy="5.6" dx="1.2"> + LV-<tspan font-style="italic" letter-spacing="0.7">Smpd3</tspan></tspan></text>
<text x="17" y="771" font-size="35" font-weight="bold" fill="#2b2b2b">f</text>
<line x1="117" y1="807.8" x2="117" y2="987" stroke="#000" stroke-width="2.8" stroke-linecap="butt"/>
<line x1="112.1" y1="985.6" x2="117" y2="985.6" stroke="#000" stroke-width="2.8" stroke-linecap="butt"/>
<text x="109.6" y="991.6" font-size="15.8" font-weight="bold" text-anchor="end" fill="#000">0.0</text>
<line x1="112.1" y1="926.7" x2="117" y2="926.7" stroke="#000" stroke-width="2.8" stroke-linecap="butt"/>
<text x="109.6" y="932.7" font-size="15.8" font-weight="bold" text-anchor="end" fill="#000">0.2</text>
<line x1="112.1" y1="867.8" x2="117" y2="867.8" stroke="#000" stroke-width="2.8" stroke-linecap="butt"/>
<text x="109.6" y="873.8" font-size="15.8" font-weight="bold" text-anchor="end" fill="#000">0.4</text>
<line x1="112.1" y1="808.9" x2="117" y2="808.9" stroke="#000" stroke-width="2.8" stroke-linecap="butt"/>
<text x="109.6" y="814.9" font-size="15.8" font-weight="bold" text-anchor="end" fill="#000">0.6</text>
<line x1="111.6" y1="985.6" x2="531" y2="985.6" stroke="#000" stroke-width="2.8" stroke-linecap="butt"/>
<line x1="143.8" y1="985.6" x2="143.8" y2="991.5" stroke="#000" stroke-width="2.8" stroke-linecap="butt"/>
<line x1="203.3" y1="985.6" x2="203.3" y2="991.5" stroke="#000" stroke-width="2.8" stroke-linecap="butt"/>
<line x1="262.8" y1="985.6" x2="262.8" y2="991.5" stroke="#000" stroke-width="2.8" stroke-linecap="butt"/>
<line x1="322.3" y1="985.6" x2="322.3" y2="991.5" stroke="#000" stroke-width="2.8" stroke-linecap="butt"/>
<line x1="381.8" y1="985.6" x2="381.8" y2="991.5" stroke="#000" stroke-width="2.8" stroke-linecap="butt"/>
<line x1="441.3" y1="985.6" x2="441.3" y2="991.5" stroke="#000" stroke-width="2.8" stroke-linecap="butt"/>
<line x1="500.8" y1="985.6" x2="500.8" y2="991.5" stroke="#000" stroke-width="2.8" stroke-linecap="butt"/>
<text x="79" y="892" font-size="15.8" font-weight="bold" text-anchor="middle" fill="#000" transform="rotate(-90 79 892)">Ceramide in supernatant (μM)</text>
<text x="149.6" y="1006.6" font-size="16.6" font-weight="bold" text-anchor="end" fill="#000" transform="rotate(-45 149.6 1006.6)">Total</text>
<text x="209.1" y="1006.6" font-size="16.6" font-weight="bold" text-anchor="end" fill="#000" transform="rotate(-45 209.1 1006.6)">Cer (d18:1/16:0)</text>
<text x="268.6" y="1006.6" font-size="16.6" font-weight="bold" text-anchor="end" fill="#000" transform="rotate(-45 268.6 1006.6)">Cer (d18:1/18:0)</text>
<text x="328.1" y="1006.6" font-size="16.6" font-weight="bold" text-anchor="end" fill="#000" transform="rotate(-45 328.1 1006.6)">Cer (d18:1/20:0)</text>
<text x="387.6" y="1006.6" font-size="16.6" font-weight="bold" text-anchor="end" fill="#000" transform="rotate(-45 387.6 1006.6)">Cer (d18:1/22:0)</text>
<text x="447.1" y="1006.6" font-size="16.6" font-weight="bold" text-anchor="end" fill="#000" transform="rotate(-45 447.1 1006.6)">Cer (d18:1/24:0)</text>
<text x="506.6" y="1006.6" font-size="16.6" font-weight="bold" text-anchor="end" fill="#000" transform="rotate(-45 506.6 1006.6)">Cer (d18:1/24:1)</text>
<circle cx="128" cy="858.97" r="4.15" fill="#F7C46E" stroke="#5c5c5c" stroke-width="1.6"/>
<circle cx="129.2" cy="863.38" r="4.15" fill="#F7C46E" stroke="#5c5c5c" stroke-width="1.6"/>
<circle cx="126.8" cy="870.75" r="4.15" fill="#F7C46E" stroke="#5c5c5c" stroke-width="1.6"/>
<circle cx="128.6" cy="876.63" r="4.15" fill="#F7C46E" stroke="#5c5c5c" stroke-width="1.6"/>
<circle cx="128" cy="881.05" r="4.15" fill="#F7C46E" stroke="#5c5c5c" stroke-width="1.6"/>
<line x1="122.5" y1="871.92" x2="133.5" y2="871.92" stroke="#000" stroke-width="2.0" stroke-linecap="butt"/>
<line x1="128" y1="868.39" x2="128" y2="875.46" stroke="#000" stroke-width="1.6" stroke-linecap="butt"/>
<line x1="124.8" y1="868.39" x2="131.2" y2="868.39" stroke="#000" stroke-width="1.6" stroke-linecap="butt"/>
<line x1="124.8" y1="875.46" x2="131.2" y2="875.46" stroke="#000" stroke-width="1.6" stroke-linecap="butt"/>
<circle cx="143.8" cy="889.89" r="4.15" fill="#5CC2EA" stroke="#5c5c5c" stroke-width="1.6"/>
<circle cx="145" cy="894.31" r="4.15" fill="#5CC2EA" stroke="#5c5c5c" stroke-width="1.6"/>
<circle cx="142.6" cy="903.14" r="4.15" fill="#5CC2EA" stroke="#5c5c5c" stroke-width="1.6"/>
<circle cx="144.4" cy="909.03" r="4.15" fill="#5CC2EA" stroke="#5c5c5c" stroke-width="1.6"/>
<circle cx="143.8" cy="913.45" r="4.15" fill="#5CC2EA" stroke="#5c5c5c" stroke-width="1.6"/>
<line x1="138.3" y1="902.55" x2="149.3" y2="902.55" stroke="#000" stroke-width="2.0" stroke-linecap="butt"/>
<line x1="143.8" y1="899.02" x2="143.8" y2="906.09" stroke="#000" stroke-width="1.6" stroke-linecap="butt"/>
<line x1="140.6" y1="899.02" x2="147" y2="899.02" stroke="#000" stroke-width="1.6" stroke-linecap="butt"/>
<line x1="140.6" y1="906.09" x2="147" y2="906.09" stroke="#000" stroke-width="1.6" stroke-linecap="butt"/>
<circle cx="160.8" cy="826.57" r="4.15" fill="#EA5B4D" stroke="#5c5c5c" stroke-width="1.6"/>
<circle cx="162" cy="829.51" r="4.15" fill="#EA5B4D" stroke="#5c5c5c" stroke-width="1.6"/>
<circle cx="159.6" cy="838.35" r="4.15" fill="#EA5B4D" stroke="#5c5c5c" stroke-width="1.6"/>
<circle cx="161.4" cy="842.77" r="4.15" fill="#EA5B4D" stroke="#5c5c5c" stroke-width="1.6"/>
<circle cx="160.8" cy="851.6" r="4.15" fill="#EA5B4D" stroke="#5c5c5c" stroke-width="1.6"/>
<line x1="155.3" y1="839.23" x2="166.3" y2="839.23" stroke="#000" stroke-width="2.0" stroke-linecap="butt"/>
<line x1="160.8" y1="835.4" x2="160.8" y2="843.06" stroke="#000" stroke-width="1.6" stroke-linecap="butt"/>
<line x1="157.6" y1="835.4" x2="164" y2="835.4" stroke="#000" stroke-width="1.6" stroke-linecap="butt"/>
<line x1="157.6" y1="843.06" x2="164" y2="843.06" stroke="#000" stroke-width="1.6" stroke-linecap="butt"/>
<circle cx="187.5" cy="929.64" r="4.15" fill="#F7C46E" stroke="#5c5c5c" stroke-width="1.6"/>
<circle cx="188.7" cy="937.01" r="4.15" fill="#F7C46E" stroke="#5c5c5c" stroke-width="1.6"/>
<circle cx="186.3" cy="944.37" r="4.15" fill="#F7C46E" stroke="#5c5c5c" stroke-width="1.6"/>
<circle cx="188.1" cy="950.85" r="4.15" fill="#F7C46E" stroke="#5c5c5c" stroke-width="1.6"/>
<circle cx="187.5" cy="956.74" r="4.15" fill="#F7C46E" stroke="#5c5c5c" stroke-width="1.6"/>
<line x1="182" y1="942.9" x2="193" y2="942.9" stroke="#000" stroke-width="2.0" stroke-linecap="butt"/>
<line x1="187.5" y1="938.48" x2="187.5" y2="947.32" stroke="#000" stroke-width="1.6" stroke-linecap="butt"/>
<line x1="184.3" y1="938.48" x2="190.7" y2="938.48" stroke="#000" stroke-width="1.6" stroke-linecap="butt"/>
<line x1="184.3" y1="947.32" x2="190.7" y2="947.32" stroke="#000" stroke-width="1.6" stroke-linecap="butt"/>
<circle cx="203.3" cy="957.62" r="4.15" fill="#5CC2EA" stroke="#5c5c5c" stroke-width="1.6"/>
<circle cx="204.5" cy="960.57" r="4.15" fill="#5CC2EA" stroke="#5c5c5c" stroke-width="1.6"/>
<circle cx="202.1" cy="963.51" r="4.15" fill="#5CC2EA" stroke="#5c5c5c" stroke-width="1.6"/>
<line x1="197.8" y1="962.63" x2="208.8" y2="962.63" stroke="#000" stroke-width="2.0" stroke-linecap="butt"/>
<line x1="203.3" y1="961.75" x2="203.3" y2="963.51" stroke="#000" stroke-width="1.6" stroke-linecap="butt"/>
<line x1="200.1" y1="961.75" x2="206.5" y2="961.75" stroke="#000" stroke-width="1.6" stroke-linecap="butt"/>
<line x1="200.1" y1="963.51" x2="206.5" y2="963.51" stroke="#000" stroke-width="1.6" stroke-linecap="butt"/>
<circle cx="220.3" cy="916.39" r="4.15" fill="#EA5B4D" stroke="#5c5c5c" stroke-width="1.6"/>
<circle cx="221.5" cy="929.64" r="4.15" fill="#EA5B4D" stroke="#5c5c5c" stroke-width="1.6"/>
<circle cx="219.1" cy="935.53" r="4.15" fill="#EA5B4D" stroke="#5c5c5c" stroke-width="1.6"/>
<circle cx="220.9" cy="941.43" r="4.15" fill="#EA5B4D" stroke="#5c5c5c" stroke-width="1.6"/>
<circle cx="220.3" cy="947.32" r="4.15" fill="#EA5B4D" stroke="#5c5c5c" stroke-width="1.6"/>
<line x1="214.8" y1="937.01" x2="225.8" y2="937.01" stroke="#000" stroke-width="2.0" stroke-linecap="butt"/>
<line x1="220.3" y1="932.88" x2="220.3" y2="941.13" stroke="#000" stroke-width="1.6" stroke-linecap="butt"/>
<line x1="217.1" y1="932.88" x2="223.5" y2="932.88" stroke="#000" stroke-width="1.6" stroke-linecap="butt"/>
<line x1="217.1" y1="941.13" x2="223.5" y2="941.13" stroke="#000" stroke-width="1.6" stroke-linecap="butt"/>
<circle cx="247" cy="950.26" r="4.15" fill="#F7C46E" stroke="#5c5c5c" stroke-width="1.6"/>
<circle cx="248.2" cy="956.15" r="4.15" fill="#F7C46E" stroke="#5c5c5c" stroke-width="1.6"/>
<circle cx="245.8" cy="962.04" r="4.15" fill="#F7C46E" stroke="#5c5c5c" stroke-width="1.6"/>
<circle cx="247.6" cy="966.46" r="4.15" fill="#F7C46E" stroke="#5c5c5c" stroke-width="1.6"/>
<circle cx="247" cy="967.93" r="4.15" fill="#F7C46E" stroke="#5c5c5c" stroke-width="1.6"/>
<line x1="241.5" y1="960.57" x2="252.5" y2="960.57" stroke="#000" stroke-width="2.0" stroke-linecap="butt"/>
<line x1="247" y1="957.62" x2="247" y2="963.51" stroke="#000" stroke-width="1.6" stroke-linecap="butt"/>
<line x1="243.8" y1="957.62" x2="250.2" y2="957.62" stroke="#000" stroke-width="1.6" stroke-linecap="butt"/>
<line x1="243.8" y1="963.51" x2="250.2" y2="963.51" stroke="#000" stroke-width="1.6" stroke-linecap="butt"/>
<circle cx="262.8" cy="951.73" r="4.15" fill="#5CC2EA" stroke="#5c5c5c" stroke-width="1.6"/>
<circle cx="264" cy="956.15" r="4.15" fill="#5CC2EA" stroke="#5c5c5c" stroke-width="1.6"/>
<circle cx="261.6" cy="959.1" r="4.15" fill="#5CC2EA" stroke="#5c5c5c" stroke-width="1.6"/>
<circle cx="263.4" cy="962.04" r="4.15" fill="#5CC2EA" stroke="#5c5c5c" stroke-width="1.6"/>
<circle cx="262.8" cy="963.51" r="4.15" fill="#5CC2EA" stroke="#5c5c5c" stroke-width="1.6"/>
<line x1="257.3" y1="958.8" x2="268.3" y2="958.8" stroke="#000" stroke-width="2.0" stroke-linecap="butt"/>
<line x1="262.8" y1="957.03" x2="262.8" y2="960.57" stroke="#000" stroke-width="1.6" stroke-linecap="butt"/>
<line x1="259.6" y1="957.03" x2="266" y2="957.03" stroke="#000" stroke-width="1.6" stroke-linecap="butt"/>
<line x1="259.6" y1="960.57" x2="266" y2="960.57" stroke="#000" stroke-width="1.6" stroke-linecap="butt"/>
<circle cx="279.8" cy="948.79" r="4.15" fill="#EA5B4D" stroke="#5c5c5c" stroke-width="1.6"/>
<circle cx="281" cy="951.73" r="4.15" fill="#EA5B4D" stroke="#5c5c5c" stroke-width="1.6"/>
<circle cx="278.6" cy="954.68" r="4.15" fill="#EA5B4D" stroke="#5c5c5c" stroke-width="1.6"/>
<circle cx="280.4" cy="957.62" r="4.15" fill="#EA5B4D" stroke="#5c5c5c" stroke-width="1.6"/>
<circle cx="279.8" cy="959.1" r="4.15" fill="#EA5B4D" stroke="#5c5c5c" stroke-width="1.6"/>
<line x1="274.3" y1="954.68" x2="285.3" y2="954.68" stroke="#000" stroke-width="2.0" stroke-linecap="butt"/>
<line x1="279.8" y1="952.91" x2="279.8" y2="956.44" stroke="#000" stroke-width="1.6" stroke-linecap="butt"/>
<line x1="276.6" y1="952.91" x2="283" y2="952.91" stroke="#000" stroke-width="1.6" stroke-linecap="butt"/>
<line x1="276.6" y1="956.44" x2="283" y2="956.44" stroke="#000" stroke-width="1.6" stroke-linecap="butt"/>
<circle cx="306.5" cy="967.93" r="4.15" fill="#F7C46E" stroke="#5c5c5c" stroke-width="1.6"/>
<circle cx="307.7" cy="969.4" r="4.15" fill="#F7C46E" stroke="#5c5c5c" stroke-width="1.6"/>
<circle cx="305.3" cy="970.88" r="4.15" fill="#F7C46E" stroke="#5c5c5c" stroke-width="1.6"/>
<circle cx="307.1" cy="972.35" r="4.15" fill="#F7C46E" stroke="#5c5c5c" stroke-width="1.6"/>
<circle cx="306.5" cy="973.23" r="4.15" fill="#F7C46E" stroke="#5c5c5c" stroke-width="1.6"/>
<line x1="301" y1="970.88" x2="312" y2="970.88" stroke="#000" stroke-width="2.0" stroke-linecap="butt"/>
<line x1="306.5" y1="969.99" x2="306.5" y2="971.76" stroke="#000" stroke-width="1.6" stroke-linecap="butt"/>
<line x1="303.3" y1="969.99" x2="309.7" y2="969.99" stroke="#000" stroke-width="1.6" stroke-linecap="butt"/>
<line x1="303.3" y1="971.76" x2="309.7" y2="971.76" stroke="#000" stroke-width="1.6" stroke-linecap="butt"/>
<circle cx="322.3" cy="970.88" r="4.15" fill="#5CC2EA" stroke="#5c5c5c" stroke-width="1.6"/>
<circle cx="323.5" cy="972.35" r="4.15" fill="#5CC2EA" stroke="#5c5c5c" stroke-width="1.6"/>
<circle cx="321.1" cy="973.82" r="4.15" fill="#5CC2EA" stroke="#5c5c5c" stroke-width="1.6"/>
<circle cx="322.9" cy="975.29" r="4.15" fill="#5CC2EA" stroke="#5c5c5c" stroke-width="1.6"/>
<circle cx="322.3" cy="976.76" r="4.15" fill="#5CC2EA" stroke="#5c5c5c" stroke-width="1.6"/>
<line x1="316.8" y1="974.11" x2="327.8" y2="974.11" stroke="#000" stroke-width="2.0" stroke-linecap="butt"/>
<line x1="322.3" y1="973.23" x2="322.3" y2="975" stroke="#000" stroke-width="1.6" stroke-linecap="butt"/>
<line x1="319.1" y1="973.23" x2="325.5" y2="973.23" stroke="#000" stroke-width="1.6" stroke-linecap="butt"/>
<line x1="319.1" y1="975" x2="325.5" y2="975" stroke="#000" stroke-width="1.6" stroke-linecap="butt"/>
<circle cx="339.3" cy="966.46" r="4.15" fill="#EA5B4D" stroke="#5c5c5c" stroke-width="1.6"/>
<circle cx="340.5" cy="968.52" r="4.15" fill="#EA5B4D" stroke="#5c5c5c" stroke-width="1.6"/>
<circle cx="338.1" cy="970.29" r="4.15" fill="#EA5B4D" stroke="#5c5c5c" stroke-width="1.6"/>
<circle cx="339.9" cy="972.05" r="4.15" fill="#EA5B4D" stroke="#5c5c5c" stroke-width="1.6"/>
<circle cx="339.3" cy="973.23" r="4.15" fill="#EA5B4D" stroke="#5c5c5c" stroke-width="1.6"/>
<line x1="333.8" y1="970.29" x2="344.8" y2="970.29" stroke="#000" stroke-width="2.0" stroke-linecap="butt"/>
<line x1="339.3" y1="969.11" x2="339.3" y2="971.46" stroke="#000" stroke-width="1.6" stroke-linecap="butt"/>
<line x1="336.1" y1="969.11" x2="342.5" y2="969.11" stroke="#000" stroke-width="1.6" stroke-linecap="butt"/>
<line x1="336.1" y1="971.46" x2="342.5" y2="971.46" stroke="#000" stroke-width="1.6" stroke-linecap="butt"/>
<circle cx="366" cy="954.68" r="4.15" fill="#F7C46E" stroke="#5c5c5c" stroke-width="1.6"/>
<circle cx="367.2" cy="957.03" r="4.15" fill="#F7C46E" stroke="#5c5c5c" stroke-width="1.6"/>
<circle cx="364.8" cy="959.68" r="4.15" fill="#F7C46E" stroke="#5c5c5c" stroke-width="1.6"/>
<circle cx="366.6" cy="962.04" r="4.15" fill="#F7C46E" stroke="#5c5c5c" stroke-width="1.6"/>
<circle cx="366" cy="963.51" r="4.15" fill="#F7C46E" stroke="#5c5c5c" stroke-width="1.6"/>
<line x1="360.5" y1="959.68" x2="371.5" y2="959.68" stroke="#000" stroke-width="2.0" stroke-linecap="butt"/>
<line x1="366" y1="958.21" x2="366" y2="961.16" stroke="#000" stroke-width="1.6" stroke-linecap="butt"/>
<line x1="362.8" y1="958.21" x2="369.2" y2="958.21" stroke="#000" stroke-width="1.6" stroke-linecap="butt"/>
<line x1="362.8" y1="961.16" x2="369.2" y2="961.16" stroke="#000" stroke-width="1.6" stroke-linecap="butt"/>
<circle cx="381.8" cy="963.51" r="4.15" fill="#5CC2EA" stroke="#5c5c5c" stroke-width="1.6"/>
<circle cx="383" cy="965.57" r="4.15" fill="#5CC2EA" stroke="#5c5c5c" stroke-width="1.6"/>
<circle cx="380.6" cy="967.93" r="4.15" fill="#5CC2EA" stroke="#5c5c5c" stroke-width="1.6"/>
<circle cx="382.4" cy="970.29" r="4.15" fill="#5CC2EA" stroke="#5c5c5c" stroke-width="1.6"/>
<circle cx="381.8" cy="972.35" r="4.15" fill="#5CC2EA" stroke="#5c5c5c" stroke-width="1.6"/>
<line x1="376.3" y1="968.52" x2="387.3" y2="968.52" stroke="#000" stroke-width="2.0" stroke-linecap="butt"/>
<line x1="381.8" y1="967.05" x2="381.8" y2="969.99" stroke="#000" stroke-width="1.6" stroke-linecap="butt"/>
<line x1="378.6" y1="967.05" x2="385" y2="967.05" stroke="#000" stroke-width="1.6" stroke-linecap="butt"/>
<line x1="378.6" y1="969.99" x2="385" y2="969.99" stroke="#000" stroke-width="1.6" stroke-linecap="butt"/>
<circle cx="398.8" cy="928.76" r="4.15" fill="#EA5B4D" stroke="#5c5c5c" stroke-width="1.6"/>
<circle cx="400" cy="937.01" r="4.15" fill="#EA5B4D" stroke="#5c5c5c" stroke-width="1.6"/>
<circle cx="397.6" cy="941.43" r="4.15" fill="#EA5B4D" stroke="#5c5c5c" stroke-width="1.6"/>
<circle cx="399.4" cy="944.37" r="4.15" fill="#EA5B4D" stroke="#5c5c5c" stroke-width="1.6"/>
<circle cx="398.8" cy="950.26" r="4.15" fill="#EA5B4D" stroke="#5c5c5c" stroke-width="1.6"/>
<line x1="393.3" y1="940.84" x2="404.3" y2="940.84" stroke="#000" stroke-width="2.0" stroke-linecap="butt"/>
<line x1="398.8" y1="937.3" x2="398.8" y2="944.37" stroke="#000" stroke-width="1.6" stroke-linecap="butt"/>
<line x1="395.6" y1="937.3" x2="402" y2="937.3" stroke="#000" stroke-width="1.6" stroke-linecap="butt"/>
<line x1="395.6" y1="944.37" x2="402" y2="944.37" stroke="#000" stroke-width="1.6" stroke-linecap="butt"/>
<circle cx="425.5" cy="980.59" r="4.15" fill="#F7C46E" stroke="#5c5c5c" stroke-width="1.6"/>
<circle cx="426.7" cy="981.18" r="4.15" fill="#F7C46E" stroke="#5c5c5c" stroke-width="1.6"/>
<circle cx="424.3" cy="981.77" r="4.15" fill="#F7C46E" stroke="#5c5c5c" stroke-width="1.6"/>
<circle cx="426.1" cy="982.36" r="4.15" fill="#F7C46E" stroke="#5c5c5c" stroke-width="1.6"/>
<circle cx="425.5" cy="982.65" r="4.15" fill="#F7C46E" stroke="#5c5c5c" stroke-width="1.6"/>
<line x1="420" y1="981.77" x2="431" y2="981.77" stroke="#000" stroke-width="2.0" stroke-linecap="butt"/>
<line x1="425.5" y1="981.48" x2="425.5" y2="982.07" stroke="#000" stroke-width="1.6" stroke-linecap="butt"/>
<line x1="422.3" y1="981.48" x2="428.7" y2="981.48" stroke="#000" stroke-width="1.6" stroke-linecap="butt"/>
<line x1="422.3" y1="982.07" x2="428.7" y2="982.07" stroke="#000" stroke-width="1.6" stroke-linecap="butt"/>
<circle cx="441.3" cy="980.59" r="4.15" fill="#5CC2EA" stroke="#5c5c5c" stroke-width="1.6"/>
<circle cx="442.5" cy="981.18" r="4.15" fill="#5CC2EA" stroke="#5c5c5c" stroke-width="1.6"/>
<circle cx="440.1" cy="981.77" r="4.15" fill="#5CC2EA" stroke="#5c5c5c" stroke-width="1.6"/>
<circle cx="441.9" cy="982.36" r="4.15" fill="#5CC2EA" stroke="#5c5c5c" stroke-width="1.6"/>
<circle cx="441.3" cy="982.65" r="4.15" fill="#5CC2EA" stroke="#5c5c5c" stroke-width="1.6"/>
<line x1="435.8" y1="981.77" x2="446.8" y2="981.77" stroke="#000" stroke-width="2.0" stroke-linecap="butt"/>
<line x1="441.3" y1="981.48" x2="441.3" y2="982.07" stroke="#000" stroke-width="1.6" stroke-linecap="butt"/>
<line x1="438.1" y1="981.48" x2="444.5" y2="981.48" stroke="#000" stroke-width="1.6" stroke-linecap="butt"/>
<line x1="438.1" y1="982.07" x2="444.5" y2="982.07" stroke="#000" stroke-width="1.6" stroke-linecap="butt"/>
<circle cx="458.3" cy="979.71" r="4.15" fill="#EA5B4D" stroke="#5c5c5c" stroke-width="1.6"/>
<circle cx="459.5" cy="980.3" r="4.15" fill="#EA5B4D" stroke="#5c5c5c" stroke-width="1.6"/>
<circle cx="457.1" cy="981.18" r="4.15" fill="#EA5B4D" stroke="#5c5c5c" stroke-width="1.6"/>
<circle cx="458.9" cy="981.77" r="4.15" fill="#EA5B4D" stroke="#5c5c5c" stroke-width="1.6"/>
<circle cx="458.3" cy="982.36" r="4.15" fill="#EA5B4D" stroke="#5c5c5c" stroke-width="1.6"/>
<line x1="452.8" y1="981.18" x2="463.8" y2="981.18" stroke="#000" stroke-width="2.0" stroke-linecap="butt"/>
<line x1="458.3" y1="980.89" x2="458.3" y2="981.48" stroke="#000" stroke-width="1.6" stroke-linecap="butt"/>
<line x1="455.1" y1="980.89" x2="461.5" y2="980.89" stroke="#000" stroke-width="1.6" stroke-linecap="butt"/>
<line x1="455.1" y1="981.48" x2="461.5" y2="981.48" stroke="#000" stroke-width="1.6" stroke-linecap="butt"/>
<circle cx="485" cy="983.54" r="4.15" fill="#F7C46E" stroke="#5c5c5c" stroke-width="1.6"/>
<circle cx="486.2" cy="983.83" r="4.15" fill="#F7C46E" stroke="#5c5c5c" stroke-width="1.6"/>
<circle cx="483.8" cy="984.13" r="4.15" fill="#F7C46E" stroke="#5c5c5c" stroke-width="1.6"/>
<circle cx="485.6" cy="984.42" r="4.15" fill="#F7C46E" stroke="#5c5c5c" stroke-width="1.6"/>
<circle cx="485" cy="984.42" r="4.15" fill="#F7C46E" stroke="#5c5c5c" stroke-width="1.6"/>
<line x1="479.5" y1="984.13" x2="490.5" y2="984.13" stroke="#000" stroke-width="2.0" stroke-linecap="butt"/>
<line x1="485" y1="983.83" x2="485" y2="984.42" stroke="#000" stroke-width="1.6" stroke-linecap="butt"/>
<line x1="481.8" y1="983.83" x2="488.2" y2="983.83" stroke="#000" stroke-width="1.6" stroke-linecap="butt"/>
<line x1="481.8" y1="984.42" x2="488.2" y2="984.42" stroke="#000" stroke-width="1.6" stroke-linecap="butt"/>
<circle cx="500.8" cy="983.54" r="4.15" fill="#5CC2EA" stroke="#5c5c5c" stroke-width="1.6"/>
<circle cx="502" cy="983.83" r="4.15" fill="#5CC2EA" stroke="#5c5c5c" stroke-width="1.6"/>
<circle cx="499.6" cy="984.13" r="4.15" fill="#5CC2EA" stroke="#5c5c5c" stroke-width="1.6"/>
<circle cx="501.4" cy="984.42" r="4.15" fill="#5CC2EA" stroke="#5c5c5c" stroke-width="1.6"/>
<circle cx="500.8" cy="984.42" r="4.15" fill="#5CC2EA" stroke="#5c5c5c" stroke-width="1.6"/>
<line x1="495.3" y1="984.13" x2="506.3" y2="984.13" stroke="#000" stroke-width="2.0" stroke-linecap="butt"/>
<line x1="500.8" y1="983.83" x2="500.8" y2="984.42" stroke="#000" stroke-width="1.6" stroke-linecap="butt"/>
<line x1="497.6" y1="983.83" x2="504" y2="983.83" stroke="#000" stroke-width="1.6" stroke-linecap="butt"/>
<line x1="497.6" y1="984.42" x2="504" y2="984.42" stroke="#000" stroke-width="1.6" stroke-linecap="butt"/>
<circle cx="517.8" cy="982.95" r="4.15" fill="#EA5B4D" stroke="#5c5c5c" stroke-width="1.6"/>
<circle cx="519" cy="983.24" r="4.15" fill="#EA5B4D" stroke="#5c5c5c" stroke-width="1.6"/>
<circle cx="516.6" cy="983.54" r="4.15" fill="#EA5B4D" stroke="#5c5c5c" stroke-width="1.6"/>
<circle cx="518.4" cy="983.83" r="4.15" fill="#EA5B4D" stroke="#5c5c5c" stroke-width="1.6"/>
<circle cx="517.8" cy="984.13" r="4.15" fill="#EA5B4D" stroke="#5c5c5c" stroke-width="1.6"/>
<line x1="512.3" y1="983.54" x2="523.3" y2="983.54" stroke="#000" stroke-width="2.0" stroke-linecap="butt"/>
<line x1="517.8" y1="983.24" x2="517.8" y2="983.83" stroke="#000" stroke-width="1.6" stroke-linecap="butt"/>
<line x1="514.6" y1="983.24" x2="521" y2="983.24" stroke="#000" stroke-width="1.6" stroke-linecap="butt"/>
<line x1="514.6" y1="983.83" x2="521" y2="983.83" stroke="#000" stroke-width="1.6" stroke-linecap="butt"/>
<path d="M125.6 811.1V802.8H141.7V811.1" fill="none" stroke="#000" stroke-width="1.8"/>
<text x="151.6" y="795.7" font-size="12.2" text-anchor="middle" fill="#111"><tspan font-style="italic">P</tspan> &lt; 0.0001</text>
<path d="M144.5 818.2V809.9H160.6V818.2" fill="none" stroke="#000" stroke-width="1.8"/>
<text x="175.9" y="808.2" font-size="12.2" text-anchor="middle" fill="#111"><tspan font-style="italic">P</tspan> &lt; 0.0001</text>
<path d="M204.2 892.8V884H222.2V892.8" fill="none" stroke="#000" stroke-width="1.8"/>
<text x="223.9" y="877.4" font-size="12.2" text-anchor="middle" fill="#111"><tspan font-style="italic">P</tspan> &lt; 0.0001</text>
<path d="M186.7 918.9V910.6H204.2V918.9" fill="none" stroke="#000" stroke-width="1.8"/>
<text x="190.7" y="907" font-size="12.2" text-anchor="middle" fill="#111"><tspan font-style="italic">P</tspan> = 0.0001</text>
<path d="M321.7 956.3V948.2H339V956.3" fill="none" stroke="#000" stroke-width="1.8"/>
<text x="322.1" y="943.9" font-size="12.2" text-anchor="middle" fill="#111"><tspan font-style="italic">P</tspan> = 0.0386</text>
<path d="M381.4 918.3V910.3H398.7V918.3" fill="none" stroke="#000" stroke-width="1.8"/>
<text x="401.1" y="904.8" font-size="12.2" text-anchor="middle" fill="#111"><tspan font-style="italic">P</tspan> &lt; 0.0001</text>
<path d="M364.8 945.1V937.3H382.1V945.1" fill="none" stroke="#000" stroke-width="1.8"/>
<text x="362" y="934.4" font-size="12.2" text-anchor="middle" fill="#111"><tspan font-style="italic">P</tspan> = 0.0015</text>
<path d="M500.2 974.8V967.6H518V974.8" fill="none" stroke="#000" stroke-width="1.8"/>
<text x="506.6" y="962.9" font-size="12.2" text-anchor="middle" fill="#111"><tspan font-style="italic">P</tspan> = 0.0005</text>
<circle cx="351.8" cy="792.2" r="4.6" fill="#F7C46E" stroke="#555" stroke-width="1.3"/>
<text x="369.6" y="798.8" font-size="15.2" font-weight="bold" xml:space="preserve"><tspan font-style="italic">Prkaa1</tspan><tspan font-size="10.6" dy="-6.5">fl/fl</tspan><tspan dy="6.5" dx="1.8"> + LV-Ctrl</tspan></text>
<circle cx="351.8" cy="815.9" r="4.6" fill="#5CC2EA" stroke="#555" stroke-width="1.3"/>
<text x="371" y="823.5" font-size="15.2" font-weight="bold" xml:space="preserve"><tspan font-style="italic">Prkaa1</tspan><tspan font-size="9.1" dy="-5.6">ΔIE</tspan><tspan dy="5.6" dx="3.5"> + LV-Ctrl</tspan></text>
<circle cx="351.8" cy="839.6" r="4.6" fill="#EA5B4D" stroke="#555" stroke-width="1.3"/>
<text x="371" y="846.7" font-size="15.2" font-weight="bold" xml:space="preserve"><tspan font-style="italic">Prkaa1</tspan><tspan font-size="9.1" dy="-5.6">ΔIE</tspan><tspan dy="5.6" dx="1.2"> + LV-<tspan font-style="italic" letter-spacing="0.7">Smpd3</tspan></tspan></text>
<text x="535.8" y="771.5" font-size="35" font-weight="bold" fill="#2b2b2b">g</text>
<line x1="643.5" y1="811.5" x2="643.5" y2="991.5" stroke="#000" stroke-width="2.8" stroke-linecap="butt"/>
<line x1="638.3" y1="990.1" x2="643.5" y2="990.1" stroke="#000" stroke-width="2.8" stroke-linecap="butt"/>
<text x="635.8" y="996.1" font-size="16" font-weight="bold" text-anchor="end" fill="#000">0</text>
<line x1="638.3" y1="945.85" x2="643.5" y2="945.85" stroke="#000" stroke-width="2.8" stroke-linecap="butt"/>
<text x="635.8" y="951.85" font-size="16" font-weight="bold" text-anchor="end" fill="#000">500</text>
<line x1="638.3" y1="901.6" x2="643.5" y2="901.6" stroke="#000" stroke-width="2.8" stroke-linecap="butt"/>
<text x="635.8" y="907.6" font-size="16" font-weight="bold" text-anchor="end" fill="#000">1000</text>
<line x1="638.3" y1="857.35" x2="643.5" y2="857.35" stroke="#000" stroke-width="2.8" stroke-linecap="butt"/>
<text x="635.8" y="863.35" font-size="16" font-weight="bold" text-anchor="end" fill="#000">1500</text>
<line x1="638.3" y1="813.1" x2="643.5" y2="813.1" stroke="#000" stroke-width="2.8" stroke-linecap="butt"/>
<text x="635.8" y="819.1" font-size="16" font-weight="bold" text-anchor="end" fill="#000">2000</text>
<line x1="638" y1="990.1" x2="1186" y2="990.1" stroke="#000" stroke-width="2.8" stroke-linecap="butt"/>
<line x1="680" y1="990.1" x2="680" y2="996" stroke="#000" stroke-width="2.8" stroke-linecap="butt"/>
<line x1="757.8" y1="990.1" x2="757.8" y2="996" stroke="#000" stroke-width="2.8" stroke-linecap="butt"/>
<line x1="835.6" y1="990.1" x2="835.6" y2="996" stroke="#000" stroke-width="2.8" stroke-linecap="butt"/>
<line x1="913.4" y1="990.1" x2="913.4" y2="996" stroke="#000" stroke-width="2.8" stroke-linecap="butt"/>
<line x1="991.2" y1="990.1" x2="991.2" y2="996" stroke="#000" stroke-width="2.8" stroke-linecap="butt"/>
<line x1="1069" y1="990.1" x2="1069" y2="996" stroke="#000" stroke-width="2.8" stroke-linecap="butt"/>
<line x1="1146.8" y1="990.1" x2="1146.8" y2="996" stroke="#000" stroke-width="2.8" stroke-linecap="butt"/>
<text x="590.5" y="893" font-size="15.5" font-weight="bold" text-anchor="middle" fill="#000" transform="rotate(-90 590.5 893)">Ileal ceramides (nmol/g tissue)</text>
<text x="685.9" y="1010.1" font-size="16.3" font-weight="bold" text-anchor="end" fill="#000" transform="rotate(-45 685.9 1010.1)">Total</text>
<text x="763.7" y="1010.1" font-size="16.3" font-weight="bold" text-anchor="end" fill="#000" transform="rotate(-45 763.7 1010.1)">Cer (d18:1/16:0)</text>
<text x="841.5" y="1010.1" font-size="16.3" font-weight="bold" text-anchor="end" fill="#000" transform="rotate(-45 841.5 1010.1)">Cer (d18:1/18:0)</text>
<text x="919.3" y="1010.1" font-size="16.3" font-weight="bold" text-anchor="end" fill="#000" transform="rotate(-45 919.3 1010.1)">Cer (d18:1/20:0)</text>
<text x="997.1" y="1010.1" font-size="16.3" font-weight="bold" text-anchor="end" fill="#000" transform="rotate(-45 997.1 1010.1)">Cer (d18:1/22:0)</text>
<text x="1074.9" y="1010.1" font-size="16.3" font-weight="bold" text-anchor="end" fill="#000" transform="rotate(-45 1074.9 1010.1)">Cer (d18:1/24:0)</text>
<text x="1152.7" y="1010.1" font-size="16.3" font-weight="bold" text-anchor="end" fill="#000" transform="rotate(-45 1152.7 1010.1)">Cer (d18:1/24:1)</text>
<circle cx="652.7" cy="877.26" r="3.95" fill="#AAAAAA" stroke="#5c5c5c" stroke-width="1.4"/>
<circle cx="653.5" cy="906.38" r="3.95" fill="#AAAAAA" stroke="#5c5c5c" stroke-width="1.4"/>
<circle cx="651.9" cy="919.39" r="3.95" fill="#AAAAAA" stroke="#5c5c5c" stroke-width="1.4"/>
<circle cx="653.1" cy="926.65" r="3.95" fill="#AAAAAA" stroke="#5c5c5c" stroke-width="1.4"/>
<circle cx="652.7" cy="929.65" r="3.95" fill="#AAAAAA" stroke="#5c5c5c" stroke-width="1.4"/>
<line x1="648.1" y1="914.7" x2="657.3" y2="914.7" stroke="#000" stroke-width="1.8" stroke-linecap="butt"/>
<line x1="652.7" y1="906.29" x2="652.7" y2="923.11" stroke="#000" stroke-width="1.6" stroke-linecap="butt"/>
<line x1="650.1" y1="906.29" x2="655.3" y2="906.29" stroke="#000" stroke-width="1.6" stroke-linecap="butt"/>
<line x1="650.1" y1="923.11" x2="655.3" y2="923.11" stroke="#000" stroke-width="1.6" stroke-linecap="butt"/>
<circle cx="666.4" cy="890.27" r="3.95" fill="#8A82D6" stroke="#5c5c5c" stroke-width="1.4"/>
<circle cx="667.2" cy="900.72" r="3.95" fill="#8A82D6" stroke="#5c5c5c" stroke-width="1.4"/>
<circle cx="665.6" cy="903.99" r="3.95" fill="#8A82D6" stroke="#5c5c5c" stroke-width="1.4"/>
<circle cx="666.8" cy="906.38" r="3.95" fill="#8A82D6" stroke="#5c5c5c" stroke-width="1.4"/>
<circle cx="666.4" cy="911.07" r="3.95" fill="#8A82D6" stroke="#5c5c5c" stroke-width="1.4"/>
<line x1="661.8" y1="903.99" x2="671" y2="903.99" stroke="#000" stroke-width="1.8" stroke-linecap="butt"/>
<line x1="666.4" y1="900.45" x2="666.4" y2="907.53" stroke="#000" stroke-width="1.6" stroke-linecap="butt"/>
<line x1="663.8" y1="900.45" x2="669" y2="900.45" stroke="#000" stroke-width="1.6" stroke-linecap="butt"/>
<line x1="663.8" y1="907.53" x2="669" y2="907.53" stroke="#000" stroke-width="1.6" stroke-linecap="butt"/>
<circle cx="680" cy="828.32" r="3.95" fill="#EA5B4D" stroke="#5c5c5c" stroke-width="1.4"/>
<circle cx="680.8" cy="838.59" r="3.95" fill="#EA5B4D" stroke="#5c5c5c" stroke-width="1.4"/>
<circle cx="679.2" cy="842.57" r="3.95" fill="#EA5B4D" stroke="#5c5c5c" stroke-width="1.4"/>
<circle cx="680.4" cy="868.24" r="3.95" fill="#EA5B4D" stroke="#5c5c5c" stroke-width="1.4"/>
<circle cx="680" cy="874.25" r="3.95" fill="#EA5B4D" stroke="#5c5c5c" stroke-width="1.4"/>
<circle cx="680.8" cy="881.42" r="3.95" fill="#EA5B4D" stroke="#5c5c5c" stroke-width="1.4"/>
<line x1="675.4" y1="855.76" x2="684.6" y2="855.76" stroke="#000" stroke-width="1.8" stroke-linecap="butt"/>
<line x1="680" y1="846.46" x2="680" y2="865.05" stroke="#000" stroke-width="1.6" stroke-linecap="butt"/>
<line x1="677.4" y1="846.46" x2="682.6" y2="846.46" stroke="#000" stroke-width="1.6" stroke-linecap="butt"/>
<line x1="677.4" y1="865.05" x2="682.6" y2="865.05" stroke="#000" stroke-width="1.6" stroke-linecap="butt"/>
<circle cx="694.2" cy="889.21" r="3.95" fill="#5CC2EA" stroke="#5c5c5c" stroke-width="1.4"/>
<circle cx="695" cy="898.06" r="3.95" fill="#5CC2EA" stroke="#5c5c5c" stroke-width="1.4"/>
<circle cx="693.4" cy="903.99" r="3.95" fill="#5CC2EA" stroke="#5c5c5c" stroke-width="1.4"/>
<circle cx="694.6" cy="911.07" r="3.95" fill="#5CC2EA" stroke="#5c5c5c" stroke-width="1.4"/>
<circle cx="694.2" cy="921.96" r="3.95" fill="#5CC2EA" stroke="#5c5c5c" stroke-width="1.4"/>
<line x1="689.6" y1="903.99" x2="698.8" y2="903.99" stroke="#000" stroke-width="1.8" stroke-linecap="butt"/>
<line x1="694.2" y1="898.24" x2="694.2" y2="909.74" stroke="#000" stroke-width="1.6" stroke-linecap="butt"/>
<line x1="691.6" y1="898.24" x2="696.8" y2="898.24" stroke="#000" stroke-width="1.6" stroke-linecap="butt"/>
<line x1="691.6" y1="909.74" x2="696.8" y2="909.74" stroke="#000" stroke-width="1.6" stroke-linecap="butt"/>
<circle cx="707.7" cy="843.81" r="3.95" fill="#F7C46E" stroke="#5c5c5c" stroke-width="1.4"/>
<circle cx="708.5" cy="863.55" r="3.95" fill="#F7C46E" stroke="#5c5c5c" stroke-width="1.4"/>
<circle cx="706.9" cy="869.47" r="3.95" fill="#F7C46E" stroke="#5c5c5c" stroke-width="1.4"/>
<circle cx="708.1" cy="880.18" r="3.95" fill="#F7C46E" stroke="#5c5c5c" stroke-width="1.4"/>
<circle cx="707.7" cy="888.5" r="3.95" fill="#F7C46E" stroke="#5c5c5c" stroke-width="1.4"/>
<line x1="703.1" y1="870.27" x2="712.3" y2="870.27" stroke="#000" stroke-width="1.8" stroke-linecap="butt"/>
<line x1="707.7" y1="863.19" x2="707.7" y2="877.35" stroke="#000" stroke-width="1.6" stroke-linecap="butt"/>
<line x1="705.1" y1="863.19" x2="710.3" y2="863.19" stroke="#000" stroke-width="1.6" stroke-linecap="butt"/>
<line x1="705.1" y1="877.35" x2="710.3" y2="877.35" stroke="#000" stroke-width="1.6" stroke-linecap="butt"/>
<circle cx="730.5" cy="918.33" r="3.95" fill="#AAAAAA" stroke="#5c5c5c" stroke-width="1.4"/>
<circle cx="731.3" cy="930.1" r="3.95" fill="#AAAAAA" stroke="#5c5c5c" stroke-width="1.4"/>
<circle cx="729.7" cy="940.89" r="3.95" fill="#AAAAAA" stroke="#5c5c5c" stroke-width="1.4"/>
<circle cx="730.9" cy="951.51" r="3.95" fill="#AAAAAA" stroke="#5c5c5c" stroke-width="1.4"/>
<line x1="725.9" y1="938.5" x2="735.1" y2="938.5" stroke="#000" stroke-width="1.8" stroke-linecap="butt"/>
<line x1="730.5" y1="931.87" x2="730.5" y2="945.14" stroke="#000" stroke-width="1.6" stroke-linecap="butt"/>
<line x1="727.9" y1="931.87" x2="733.1" y2="931.87" stroke="#000" stroke-width="1.6" stroke-linecap="butt"/>
<line x1="727.9" y1="945.14" x2="733.1" y2="945.14" stroke="#000" stroke-width="1.6" stroke-linecap="butt"/>
<circle cx="744.2" cy="919.39" r="3.95" fill="#8A82D6" stroke="#5c5c5c" stroke-width="1.4"/>
<circle cx="745" cy="925.41" r="3.95" fill="#8A82D6" stroke="#5c5c5c" stroke-width="1.4"/>
<circle cx="743.4" cy="932.49" r="3.95" fill="#8A82D6" stroke="#5c5c5c" stroke-width="1.4"/>
<circle cx="744.6" cy="938.5" r="3.95" fill="#8A82D6" stroke="#5c5c5c" stroke-width="1.4"/>
<line x1="739.6" y1="930.63" x2="748.8" y2="930.63" stroke="#000" stroke-width="1.8" stroke-linecap="butt"/>
<line x1="744.2" y1="926.65" x2="744.2" y2="934.61" stroke="#000" stroke-width="1.6" stroke-linecap="butt"/>
<line x1="741.6" y1="926.65" x2="746.8" y2="926.65" stroke="#000" stroke-width="1.6" stroke-linecap="butt"/>
<line x1="741.6" y1="934.61" x2="746.8" y2="934.61" stroke="#000" stroke-width="1.6" stroke-linecap="butt"/>
<circle cx="757.8" cy="877.35" r="3.95" fill="#EA5B4D" stroke="#5c5c5c" stroke-width="1.4"/>
<circle cx="758.6" cy="882.13" r="3.95" fill="#EA5B4D" stroke="#5c5c5c" stroke-width="1.4"/>
<circle cx="757" cy="906.38" r="3.95" fill="#EA5B4D" stroke="#5c5c5c" stroke-width="1.4"/>
<circle cx="758.2" cy="911.07" r="3.95" fill="#EA5B4D" stroke="#5c5c5c" stroke-width="1.4"/>
<circle cx="757.8" cy="918.33" r="3.95" fill="#EA5B4D" stroke="#5c5c5c" stroke-width="1.4"/>
<line x1="753.2" y1="901.69" x2="762.4" y2="901.69" stroke="#000" stroke-width="1.8" stroke-linecap="butt"/>
<line x1="757.8" y1="894.17" x2="757.8" y2="909.21" stroke="#000" stroke-width="1.6" stroke-linecap="butt"/>
<line x1="755.2" y1="894.17" x2="760.4" y2="894.17" stroke="#000" stroke-width="1.6" stroke-linecap="butt"/>
<line x1="755.2" y1="909.21" x2="760.4" y2="909.21" stroke="#000" stroke-width="1.6" stroke-linecap="butt"/>
<circle cx="772" cy="915.94" r="3.95" fill="#5CC2EA" stroke="#5c5c5c" stroke-width="1.4"/>
<circle cx="772.8" cy="923.02" r="3.95" fill="#5CC2EA" stroke="#5c5c5c" stroke-width="1.4"/>
<circle cx="771.2" cy="930.1" r="3.95" fill="#5CC2EA" stroke="#5c5c5c" stroke-width="1.4"/>
<circle cx="772.4" cy="936.03" r="3.95" fill="#5CC2EA" stroke="#5c5c5c" stroke-width="1.4"/>
<circle cx="772" cy="943.2" r="3.95" fill="#5CC2EA" stroke="#5c5c5c" stroke-width="1.4"/>
<line x1="767.4" y1="927.71" x2="776.6" y2="927.71" stroke="#000" stroke-width="1.8" stroke-linecap="butt"/>
<line x1="772" y1="922.84" x2="772" y2="932.58" stroke="#000" stroke-width="1.6" stroke-linecap="butt"/>
<line x1="769.4" y1="922.84" x2="774.6" y2="922.84" stroke="#000" stroke-width="1.6" stroke-linecap="butt"/>
<line x1="769.4" y1="932.58" x2="774.6" y2="932.58" stroke="#000" stroke-width="1.6" stroke-linecap="butt"/>
<circle cx="785.5" cy="892.13" r="3.95" fill="#F7C46E" stroke="#5c5c5c" stroke-width="1.4"/>
<circle cx="786.3" cy="898.06" r="3.95" fill="#F7C46E" stroke="#5c5c5c" stroke-width="1.4"/>
<circle cx="784.7" cy="911.07" r="3.95" fill="#F7C46E" stroke="#5c5c5c" stroke-width="1.4"/>
<circle cx="785.9" cy="914.88" r="3.95" fill="#F7C46E" stroke="#5c5c5c" stroke-width="1.4"/>
<circle cx="785.5" cy="918.33" r="3.95" fill="#F7C46E" stroke="#5c5c5c" stroke-width="1.4"/>
<line x1="780.9" y1="905.85" x2="790.1" y2="905.85" stroke="#000" stroke-width="1.8" stroke-linecap="butt"/>
<line x1="785.5" y1="900.54" x2="785.5" y2="911.16" stroke="#000" stroke-width="1.6" stroke-linecap="butt"/>
<line x1="782.9" y1="900.54" x2="788.1" y2="900.54" stroke="#000" stroke-width="1.6" stroke-linecap="butt"/>
<line x1="782.9" y1="911.16" x2="788.1" y2="911.16" stroke="#000" stroke-width="1.6" stroke-linecap="butt"/>
<circle cx="808.3" cy="986.12" r="3.95" fill="#AAAAAA" stroke="#5c5c5c" stroke-width="1.4"/>
<circle cx="809.1" cy="986.74" r="3.95" fill="#AAAAAA" stroke="#5c5c5c" stroke-width="1.4"/>
<circle cx="807.5" cy="987.18" r="3.95" fill="#AAAAAA" stroke="#5c5c5c" stroke-width="1.4"/>
<circle cx="808.7" cy="987.62" r="3.95" fill="#AAAAAA" stroke="#5c5c5c" stroke-width="1.4"/>
<line x1="803.7" y1="987.18" x2="812.9" y2="987.18" stroke="#000" stroke-width="1.8" stroke-linecap="butt"/>
<line x1="808.3" y1="986.83" x2="808.3" y2="987.53" stroke="#000" stroke-width="1.6" stroke-linecap="butt"/>
<line x1="805.7" y1="986.83" x2="810.9" y2="986.83" stroke="#000" stroke-width="1.6" stroke-linecap="butt"/>
<line x1="805.7" y1="987.53" x2="810.9" y2="987.53" stroke="#000" stroke-width="1.6" stroke-linecap="butt"/>
<circle cx="822" cy="986.12" r="3.95" fill="#8A82D6" stroke="#5c5c5c" stroke-width="1.4"/>
<circle cx="822.8" cy="986.56" r="3.95" fill="#8A82D6" stroke="#5c5c5c" stroke-width="1.4"/>
<circle cx="821.2" cy="987" r="3.95" fill="#8A82D6" stroke="#5c5c5c" stroke-width="1.4"/>
<circle cx="822.4" cy="987.45" r="3.95" fill="#8A82D6" stroke="#5c5c5c" stroke-width="1.4"/>
<line x1="817.4" y1="986.91" x2="826.6" y2="986.91" stroke="#000" stroke-width="1.8" stroke-linecap="butt"/>
<line x1="822" y1="986.56" x2="822" y2="987.27" stroke="#000" stroke-width="1.6" stroke-linecap="butt"/>
<line x1="819.4" y1="986.56" x2="824.6" y2="986.56" stroke="#000" stroke-width="1.6" stroke-linecap="butt"/>
<line x1="819.4" y1="987.27" x2="824.6" y2="987.27" stroke="#000" stroke-width="1.6" stroke-linecap="butt"/>
<circle cx="835.6" cy="980.81" r="3.95" fill="#EA5B4D" stroke="#5c5c5c" stroke-width="1.4"/>
<circle cx="836.4" cy="983.02" r="3.95" fill="#EA5B4D" stroke="#5c5c5c" stroke-width="1.4"/>
<circle cx="834.8" cy="984.79" r="3.95" fill="#EA5B4D" stroke="#5c5c5c" stroke-width="1.4"/>
<circle cx="836" cy="986.12" r="3.95" fill="#EA5B4D" stroke="#5c5c5c" stroke-width="1.4"/>
<line x1="831" y1="984.79" x2="840.2" y2="984.79" stroke="#000" stroke-width="1.8" stroke-linecap="butt"/>
<line x1="835.6" y1="983.73" x2="835.6" y2="985.85" stroke="#000" stroke-width="1.6" stroke-linecap="butt"/>
<line x1="833" y1="983.73" x2="838.2" y2="983.73" stroke="#000" stroke-width="1.6" stroke-linecap="butt"/>
<line x1="833" y1="985.85" x2="838.2" y2="985.85" stroke="#000" stroke-width="1.6" stroke-linecap="butt"/>
<circle cx="849.8" cy="986.56" r="3.95" fill="#5CC2EA" stroke="#5c5c5c" stroke-width="1.4"/>
<circle cx="850.6" cy="987.27" r="3.95" fill="#5CC2EA" stroke="#5c5c5c" stroke-width="1.4"/>
<circle cx="849" cy="987.62" r="3.95" fill="#5CC2EA" stroke="#5c5c5c" stroke-width="1.4"/>
<circle cx="850.2" cy="988.15" r="3.95" fill="#5CC2EA" stroke="#5c5c5c" stroke-width="1.4"/>
<line x1="845.2" y1="987.62" x2="854.4" y2="987.62" stroke="#000" stroke-width="1.8" stroke-linecap="butt"/>
<line x1="849.8" y1="987.27" x2="849.8" y2="987.98" stroke="#000" stroke-width="1.6" stroke-linecap="butt"/>
<line x1="847.2" y1="987.27" x2="852.4" y2="987.27" stroke="#000" stroke-width="1.6" stroke-linecap="butt"/>
<line x1="847.2" y1="987.98" x2="852.4" y2="987.98" stroke="#000" stroke-width="1.6" stroke-linecap="butt"/>
<circle cx="863.3" cy="982.13" r="3.95" fill="#F7C46E" stroke="#5c5c5c" stroke-width="1.4"/>
<circle cx="864.1" cy="983.9" r="3.95" fill="#F7C46E" stroke="#5c5c5c" stroke-width="1.4"/>
<circle cx="862.5" cy="985.23" r="3.95" fill="#F7C46E" stroke="#5c5c5c" stroke-width="1.4"/>
<circle cx="863.7" cy="986.56" r="3.95" fill="#F7C46E" stroke="#5c5c5c" stroke-width="1.4"/>
<line x1="858.7" y1="985.23" x2="867.9" y2="985.23" stroke="#000" stroke-width="1.8" stroke-linecap="butt"/>
<line x1="863.3" y1="984.35" x2="863.3" y2="986.12" stroke="#000" stroke-width="1.6" stroke-linecap="butt"/>
<line x1="860.7" y1="984.35" x2="865.9" y2="984.35" stroke="#000" stroke-width="1.6" stroke-linecap="butt"/>
<line x1="860.7" y1="986.12" x2="865.9" y2="986.12" stroke="#000" stroke-width="1.6" stroke-linecap="butt"/>
<circle cx="886.1" cy="988.77" r="3.95" fill="#AAAAAA" stroke="#5c5c5c" stroke-width="1.4"/>
<circle cx="886.9" cy="989.04" r="3.95" fill="#AAAAAA" stroke="#5c5c5c" stroke-width="1.4"/>
<circle cx="885.3" cy="989.22" r="3.95" fill="#AAAAAA" stroke="#5c5c5c" stroke-width="1.4"/>
<circle cx="886.5" cy="989.39" r="3.95" fill="#AAAAAA" stroke="#5c5c5c" stroke-width="1.4"/>
<line x1="881.5" y1="989.22" x2="890.7" y2="989.22" stroke="#000" stroke-width="1.8" stroke-linecap="butt"/>
<line x1="886.1" y1="989.04" x2="886.1" y2="989.39" stroke="#000" stroke-width="1.6" stroke-linecap="butt"/>
<line x1="883.5" y1="989.04" x2="888.7" y2="989.04" stroke="#000" stroke-width="1.6" stroke-linecap="butt"/>
<line x1="883.5" y1="989.39" x2="888.7" y2="989.39" stroke="#000" stroke-width="1.6" stroke-linecap="butt"/>
<circle cx="899.8" cy="988.86" r="3.95" fill="#8A82D6" stroke="#5c5c5c" stroke-width="1.4"/>
<circle cx="900.6" cy="989.04" r="3.95" fill="#8A82D6" stroke="#5c5c5c" stroke-width="1.4"/>
<circle cx="899" cy="989.22" r="3.95" fill="#8A82D6" stroke="#5c5c5c" stroke-width="1.4"/>
<circle cx="900.2" cy="989.39" r="3.95" fill="#8A82D6" stroke="#5c5c5c" stroke-width="1.4"/>
<line x1="895.2" y1="989.22" x2="904.4" y2="989.22" stroke="#000" stroke-width="1.8" stroke-linecap="butt"/>
<line x1="899.8" y1="989.04" x2="899.8" y2="989.39" stroke="#000" stroke-width="1.6" stroke-linecap="butt"/>
<line x1="897.2" y1="989.04" x2="902.4" y2="989.04" stroke="#000" stroke-width="1.6" stroke-linecap="butt"/>
<line x1="897.2" y1="989.39" x2="902.4" y2="989.39" stroke="#000" stroke-width="1.6" stroke-linecap="butt"/>
<circle cx="913.4" cy="986.12" r="3.95" fill="#EA5B4D" stroke="#5c5c5c" stroke-width="1.4"/>
<circle cx="914.2" cy="987" r="3.95" fill="#EA5B4D" stroke="#5c5c5c" stroke-width="1.4"/>
<circle cx="912.6" cy="987.62" r="3.95" fill="#EA5B4D" stroke="#5c5c5c" stroke-width="1.4"/>
<circle cx="913.8" cy="988.33" r="3.95" fill="#EA5B4D" stroke="#5c5c5c" stroke-width="1.4"/>
<line x1="908.8" y1="987.62" x2="918" y2="987.62" stroke="#000" stroke-width="1.8" stroke-linecap="butt"/>
<line x1="913.4" y1="987.18" x2="913.4" y2="988.06" stroke="#000" stroke-width="1.6" stroke-linecap="butt"/>
<line x1="910.8" y1="987.18" x2="916" y2="987.18" stroke="#000" stroke-width="1.6" stroke-linecap="butt"/>
<line x1="910.8" y1="988.06" x2="916" y2="988.06" stroke="#000" stroke-width="1.6" stroke-linecap="butt"/>
<circle cx="927.6" cy="988.77" r="3.95" fill="#5CC2EA" stroke="#5c5c5c" stroke-width="1.4"/>
<circle cx="928.4" cy="989.04" r="3.95" fill="#5CC2EA" stroke="#5c5c5c" stroke-width="1.4"/>
<circle cx="926.8" cy="989.22" r="3.95" fill="#5CC2EA" stroke="#5c5c5c" stroke-width="1.4"/>
<circle cx="928" cy="989.39" r="3.95" fill="#5CC2EA" stroke="#5c5c5c" stroke-width="1.4"/>
<line x1="923" y1="989.22" x2="932.2" y2="989.22" stroke="#000" stroke-width="1.8" stroke-linecap="butt"/>
<line x1="927.6" y1="989.04" x2="927.6" y2="989.39" stroke="#000" stroke-width="1.6" stroke-linecap="butt"/>
<line x1="925" y1="989.04" x2="930.2" y2="989.04" stroke="#000" stroke-width="1.6" stroke-linecap="butt"/>
<line x1="925" y1="989.39" x2="930.2" y2="989.39" stroke="#000" stroke-width="1.6" stroke-linecap="butt"/>
<circle cx="941.1" cy="988.77" r="3.95" fill="#F7C46E" stroke="#5c5c5c" stroke-width="1.4"/>
<circle cx="941.9" cy="989.04" r="3.95" fill="#F7C46E" stroke="#5c5c5c" stroke-width="1.4"/>
<circle cx="940.3" cy="989.22" r="3.95" fill="#F7C46E" stroke="#5c5c5c" stroke-width="1.4"/>
<circle cx="941.5" cy="989.39" r="3.95" fill="#F7C46E" stroke="#5c5c5c" stroke-width="1.4"/>
<line x1="936.5" y1="989.22" x2="945.7" y2="989.22" stroke="#000" stroke-width="1.8" stroke-linecap="butt"/>
<line x1="941.1" y1="989.04" x2="941.1" y2="989.39" stroke="#000" stroke-width="1.6" stroke-linecap="butt"/>
<line x1="938.5" y1="989.04" x2="943.7" y2="989.04" stroke="#000" stroke-width="1.6" stroke-linecap="butt"/>
<line x1="938.5" y1="989.39" x2="943.7" y2="989.39" stroke="#000" stroke-width="1.6" stroke-linecap="butt"/>
<circle cx="963.9" cy="975.94" r="3.95" fill="#AAAAAA" stroke="#5c5c5c" stroke-width="1.4"/>
<circle cx="964.7" cy="978.6" r="3.95" fill="#AAAAAA" stroke="#5c5c5c" stroke-width="1.4"/>
<circle cx="963.1" cy="981.25" r="3.95" fill="#AAAAAA" stroke="#5c5c5c" stroke-width="1.4"/>
<circle cx="964.3" cy="983.46" r="3.95" fill="#AAAAAA" stroke="#5c5c5c" stroke-width="1.4"/>
<circle cx="963.9" cy="984.79" r="3.95" fill="#AAAAAA" stroke="#5c5c5c" stroke-width="1.4"/>
<line x1="959.3" y1="982.49" x2="968.5" y2="982.49" stroke="#000" stroke-width="1.8" stroke-linecap="butt"/>
<line x1="963.9" y1="980.9" x2="963.9" y2="984.08" stroke="#000" stroke-width="1.6" stroke-linecap="butt"/>
<line x1="961.3" y1="980.9" x2="966.5" y2="980.9" stroke="#000" stroke-width="1.6" stroke-linecap="butt"/>
<line x1="961.3" y1="984.08" x2="966.5" y2="984.08" stroke="#000" stroke-width="1.6" stroke-linecap="butt"/>
<circle cx="977.6" cy="980.37" r="3.95" fill="#8A82D6" stroke="#5c5c5c" stroke-width="1.4"/>
<circle cx="978.4" cy="981.69" r="3.95" fill="#8A82D6" stroke="#5c5c5c" stroke-width="1.4"/>
<circle cx="976.8" cy="982.58" r="3.95" fill="#8A82D6" stroke="#5c5c5c" stroke-width="1.4"/>
<circle cx="978" cy="983.46" r="3.95" fill="#8A82D6" stroke="#5c5c5c" stroke-width="1.4"/>
<line x1="973" y1="982.49" x2="982.2" y2="982.49" stroke="#000" stroke-width="1.8" stroke-linecap="butt"/>
<line x1="977.6" y1="981.78" x2="977.6" y2="983.2" stroke="#000" stroke-width="1.6" stroke-linecap="butt"/>
<line x1="975" y1="981.78" x2="980.2" y2="981.78" stroke="#000" stroke-width="1.6" stroke-linecap="butt"/>
<line x1="975" y1="983.2" x2="980.2" y2="983.2" stroke="#000" stroke-width="1.6" stroke-linecap="butt"/>
<circle cx="991.2" cy="965.32" r="3.95" fill="#EA5B4D" stroke="#5c5c5c" stroke-width="1.4"/>
<circle cx="992" cy="968.86" r="3.95" fill="#EA5B4D" stroke="#5c5c5c" stroke-width="1.4"/>
<circle cx="990.4" cy="972.4" r="3.95" fill="#EA5B4D" stroke="#5c5c5c" stroke-width="1.4"/>
<circle cx="991.6" cy="976.83" r="3.95" fill="#EA5B4D" stroke="#5c5c5c" stroke-width="1.4"/>
<circle cx="991.2" cy="979.48" r="3.95" fill="#EA5B4D" stroke="#5c5c5c" stroke-width="1.4"/>
<line x1="986.6" y1="975.76" x2="995.8" y2="975.76" stroke="#000" stroke-width="1.8" stroke-linecap="butt"/>
<line x1="991.2" y1="973.55" x2="991.2" y2="977.98" stroke="#000" stroke-width="1.6" stroke-linecap="butt"/>
<line x1="988.6" y1="973.55" x2="993.8" y2="973.55" stroke="#000" stroke-width="1.6" stroke-linecap="butt"/>
<line x1="988.6" y1="977.98" x2="993.8" y2="977.98" stroke="#000" stroke-width="1.6" stroke-linecap="butt"/>
<circle cx="1005.4" cy="982.13" r="3.95" fill="#5CC2EA" stroke="#5c5c5c" stroke-width="1.4"/>
<circle cx="1006.2" cy="983.9" r="3.95" fill="#5CC2EA" stroke="#5c5c5c" stroke-width="1.4"/>
<circle cx="1004.6" cy="984.79" r="3.95" fill="#5CC2EA" stroke="#5c5c5c" stroke-width="1.4"/>
<circle cx="1005.8" cy="985.68" r="3.95" fill="#5CC2EA" stroke="#5c5c5c" stroke-width="1.4"/>
<circle cx="1005.4" cy="986.12" r="3.95" fill="#5CC2EA" stroke="#5c5c5c" stroke-width="1.4"/>
<line x1="1000.8" y1="984.88" x2="1010" y2="984.88" stroke="#000" stroke-width="1.8" stroke-linecap="butt"/>
<line x1="1005.4" y1="984.17" x2="1005.4" y2="985.59" stroke="#000" stroke-width="1.6" stroke-linecap="butt"/>
<line x1="1002.8" y1="984.17" x2="1008" y2="984.17" stroke="#000" stroke-width="1.6" stroke-linecap="butt"/>
<line x1="1002.8" y1="985.59" x2="1008" y2="985.59" stroke="#000" stroke-width="1.6" stroke-linecap="butt"/>
<circle cx="1018.9" cy="975.06" r="3.95" fill="#F7C46E" stroke="#5c5c5c" stroke-width="1.4"/>
<circle cx="1019.7" cy="976.83" r="3.95" fill="#F7C46E" stroke="#5c5c5c" stroke-width="1.4"/>
<circle cx="1018.1" cy="979.04" r="3.95" fill="#F7C46E" stroke="#5c5c5c" stroke-width="1.4"/>
<circle cx="1019.3" cy="981.25" r="3.95" fill="#F7C46E" stroke="#5c5c5c" stroke-width="1.4"/>
<circle cx="1018.9" cy="983.02" r="3.95" fill="#F7C46E" stroke="#5c5c5c" stroke-width="1.4"/>
<line x1="1014.3" y1="979.21" x2="1023.5" y2="979.21" stroke="#000" stroke-width="1.8" stroke-linecap="butt"/>
<line x1="1018.9" y1="977.89" x2="1018.9" y2="980.54" stroke="#000" stroke-width="1.6" stroke-linecap="butt"/>
<line x1="1016.3" y1="977.89" x2="1021.5" y2="977.89" stroke="#000" stroke-width="1.6" stroke-linecap="butt"/>
<line x1="1016.3" y1="980.54" x2="1021.5" y2="980.54" stroke="#000" stroke-width="1.6" stroke-linecap="butt"/>
<circle cx="1041.7" cy="986.12" r="3.95" fill="#AAAAAA" stroke="#5c5c5c" stroke-width="1.4"/>
<circle cx="1042.5" cy="987" r="3.95" fill="#AAAAAA" stroke="#5c5c5c" stroke-width="1.4"/>
<circle cx="1040.9" cy="987.62" r="3.95" fill="#AAAAAA" stroke="#5c5c5c" stroke-width="1.4"/>
<circle cx="1042.1" cy="988.33" r="3.95" fill="#AAAAAA" stroke="#5c5c5c" stroke-width="1.4"/>
<line x1="1037.1" y1="987.62" x2="1046.3" y2="987.62" stroke="#000" stroke-width="1.8" stroke-linecap="butt"/>
<line x1="1041.7" y1="987.27" x2="1041.7" y2="987.98" stroke="#000" stroke-width="1.6" stroke-linecap="butt"/>
<line x1="1039.1" y1="987.27" x2="1044.3" y2="987.27" stroke="#000" stroke-width="1.6" stroke-linecap="butt"/>
<line x1="1039.1" y1="987.98" x2="1044.3" y2="987.98" stroke="#000" stroke-width="1.6" stroke-linecap="butt"/>
<circle cx="1055.4" cy="987" r="3.95" fill="#8A82D6" stroke="#5c5c5c" stroke-width="1.4"/>
<circle cx="1056.2" cy="987.45" r="3.95" fill="#8A82D6" stroke="#5c5c5c" stroke-width="1.4"/>
<circle cx="1054.6" cy="987.8" r="3.95" fill="#8A82D6" stroke="#5c5c5c" stroke-width="1.4"/>
<circle cx="1055.8" cy="988.33" r="3.95" fill="#8A82D6" stroke="#5c5c5c" stroke-width="1.4"/>
<line x1="1050.8" y1="987.8" x2="1060" y2="987.8" stroke="#000" stroke-width="1.8" stroke-linecap="butt"/>
<line x1="1055.4" y1="987.53" x2="1055.4" y2="988.06" stroke="#000" stroke-width="1.6" stroke-linecap="butt"/>
<line x1="1052.8" y1="987.53" x2="1058" y2="987.53" stroke="#000" stroke-width="1.6" stroke-linecap="butt"/>
<line x1="1052.8" y1="988.06" x2="1058" y2="988.06" stroke="#000" stroke-width="1.6" stroke-linecap="butt"/>
<circle cx="1069" cy="982.13" r="3.95" fill="#EA5B4D" stroke="#5c5c5c" stroke-width="1.4"/>
<circle cx="1069.8" cy="983.46" r="3.95" fill="#EA5B4D" stroke="#5c5c5c" stroke-width="1.4"/>
<circle cx="1068.2" cy="985.23" r="3.95" fill="#EA5B4D" stroke="#5c5c5c" stroke-width="1.4"/>
<circle cx="1069.4" cy="986.12" r="3.95" fill="#EA5B4D" stroke="#5c5c5c" stroke-width="1.4"/>
<line x1="1064.4" y1="985.23" x2="1073.6" y2="985.23" stroke="#000" stroke-width="1.8" stroke-linecap="butt"/>
<line x1="1069" y1="984.52" x2="1069" y2="985.94" stroke="#000" stroke-width="1.6" stroke-linecap="butt"/>
<line x1="1066.4" y1="984.52" x2="1071.6" y2="984.52" stroke="#000" stroke-width="1.6" stroke-linecap="butt"/>
<line x1="1066.4" y1="985.94" x2="1071.6" y2="985.94" stroke="#000" stroke-width="1.6" stroke-linecap="butt"/>
<circle cx="1083.2" cy="987" r="3.95" fill="#5CC2EA" stroke="#5c5c5c" stroke-width="1.4"/>
<circle cx="1084" cy="987.45" r="3.95" fill="#5CC2EA" stroke="#5c5c5c" stroke-width="1.4"/>
<circle cx="1082.4" cy="987.8" r="3.95" fill="#5CC2EA" stroke="#5c5c5c" stroke-width="1.4"/>
<circle cx="1083.6" cy="988.33" r="3.95" fill="#5CC2EA" stroke="#5c5c5c" stroke-width="1.4"/>
<line x1="1078.6" y1="987.8" x2="1087.8" y2="987.8" stroke="#000" stroke-width="1.8" stroke-linecap="butt"/>
<line x1="1083.2" y1="987.53" x2="1083.2" y2="988.06" stroke="#000" stroke-width="1.6" stroke-linecap="butt"/>
<line x1="1080.6" y1="987.53" x2="1085.8" y2="987.53" stroke="#000" stroke-width="1.6" stroke-linecap="butt"/>
<line x1="1080.6" y1="988.06" x2="1085.8" y2="988.06" stroke="#000" stroke-width="1.6" stroke-linecap="butt"/>
<circle cx="1096.7" cy="986.56" r="3.95" fill="#F7C46E" stroke="#5c5c5c" stroke-width="1.4"/>
<circle cx="1097.5" cy="987" r="3.95" fill="#F7C46E" stroke="#5c5c5c" stroke-width="1.4"/>
<circle cx="1095.9" cy="987.62" r="3.95" fill="#F7C46E" stroke="#5c5c5c" stroke-width="1.4"/>
<circle cx="1097.1" cy="988.15" r="3.95" fill="#F7C46E" stroke="#5c5c5c" stroke-width="1.4"/>
<line x1="1092.1" y1="987.62" x2="1101.3" y2="987.62" stroke="#000" stroke-width="1.8" stroke-linecap="butt"/>
<line x1="1096.7" y1="987.36" x2="1096.7" y2="987.89" stroke="#000" stroke-width="1.6" stroke-linecap="butt"/>
<line x1="1094.1" y1="987.36" x2="1099.3" y2="987.36" stroke="#000" stroke-width="1.6" stroke-linecap="butt"/>
<line x1="1094.1" y1="987.89" x2="1099.3" y2="987.89" stroke="#000" stroke-width="1.6" stroke-linecap="butt"/>
<circle cx="1119.5" cy="971.78" r="3.95" fill="#AAAAAA" stroke="#5c5c5c" stroke-width="1.4"/>
<circle cx="1120.3" cy="975.94" r="3.95" fill="#AAAAAA" stroke="#5c5c5c" stroke-width="1.4"/>
<circle cx="1118.7" cy="980.37" r="3.95" fill="#AAAAAA" stroke="#5c5c5c" stroke-width="1.4"/>
<circle cx="1119.9" cy="983.02" r="3.95" fill="#AAAAAA" stroke="#5c5c5c" stroke-width="1.4"/>
<circle cx="1119.5" cy="984.79" r="3.95" fill="#AAAAAA" stroke="#5c5c5c" stroke-width="1.4"/>
<line x1="1114.9" y1="980.9" x2="1124.1" y2="980.9" stroke="#000" stroke-width="1.8" stroke-linecap="butt"/>
<line x1="1119.5" y1="978.68" x2="1119.5" y2="983.11" stroke="#000" stroke-width="1.6" stroke-linecap="butt"/>
<line x1="1116.9" y1="978.68" x2="1122.1" y2="978.68" stroke="#000" stroke-width="1.6" stroke-linecap="butt"/>
<line x1="1116.9" y1="983.11" x2="1122.1" y2="983.11" stroke="#000" stroke-width="1.6" stroke-linecap="butt"/>
<circle cx="1133.2" cy="975.94" r="3.95" fill="#8A82D6" stroke="#5c5c5c" stroke-width="1.4"/>
<circle cx="1134" cy="977.71" r="3.95" fill="#8A82D6" stroke="#5c5c5c" stroke-width="1.4"/>
<circle cx="1132.4" cy="979.48" r="3.95" fill="#8A82D6" stroke="#5c5c5c" stroke-width="1.4"/>
<circle cx="1133.6" cy="981.25" r="3.95" fill="#8A82D6" stroke="#5c5c5c" stroke-width="1.4"/>
<line x1="1128.6" y1="979.21" x2="1137.8" y2="979.21" stroke="#000" stroke-width="1.8" stroke-linecap="butt"/>
<line x1="1133.2" y1="978.15" x2="1133.2" y2="980.28" stroke="#000" stroke-width="1.6" stroke-linecap="butt"/>
<line x1="1130.6" y1="978.15" x2="1135.8" y2="978.15" stroke="#000" stroke-width="1.6" stroke-linecap="butt"/>
<line x1="1130.6" y1="980.28" x2="1135.8" y2="980.28" stroke="#000" stroke-width="1.6" stroke-linecap="butt"/>
<circle cx="1146.8" cy="960.54" r="3.95" fill="#EA5B4D" stroke="#5c5c5c" stroke-width="1.4"/>
<circle cx="1147.6" cy="964.44" r="3.95" fill="#EA5B4D" stroke="#5c5c5c" stroke-width="1.4"/>
<circle cx="1146" cy="967.98" r="3.95" fill="#EA5B4D" stroke="#5c5c5c" stroke-width="1.4"/>
<circle cx="1147.2" cy="972.4" r="3.95" fill="#EA5B4D" stroke="#5c5c5c" stroke-width="1.4"/>
<circle cx="1146.8" cy="975.06" r="3.95" fill="#EA5B4D" stroke="#5c5c5c" stroke-width="1.4"/>
<line x1="1142.2" y1="970.72" x2="1151.4" y2="970.72" stroke="#000" stroke-width="1.8" stroke-linecap="butt"/>
<line x1="1146.8" y1="968.51" x2="1146.8" y2="972.93" stroke="#000" stroke-width="1.6" stroke-linecap="butt"/>
<line x1="1144.2" y1="968.51" x2="1149.4" y2="968.51" stroke="#000" stroke-width="1.6" stroke-linecap="butt"/>
<line x1="1144.2" y1="972.93" x2="1149.4" y2="972.93" stroke="#000" stroke-width="1.6" stroke-linecap="butt"/>
<circle cx="1161" cy="973.28" r="3.95" fill="#5CC2EA" stroke="#5c5c5c" stroke-width="1.4"/>
<circle cx="1161.8" cy="975.06" r="3.95" fill="#5CC2EA" stroke="#5c5c5c" stroke-width="1.4"/>
<circle cx="1160.2" cy="976.83" r="3.95" fill="#5CC2EA" stroke="#5c5c5c" stroke-width="1.4"/>
<circle cx="1161.4" cy="979.48" r="3.95" fill="#5CC2EA" stroke="#5c5c5c" stroke-width="1.4"/>
<circle cx="1161" cy="981.25" r="3.95" fill="#5CC2EA" stroke="#5c5c5c" stroke-width="1.4"/>
<line x1="1156.4" y1="977.44" x2="1165.6" y2="977.44" stroke="#000" stroke-width="1.8" stroke-linecap="butt"/>
<line x1="1161" y1="976.12" x2="1161" y2="978.77" stroke="#000" stroke-width="1.6" stroke-linecap="butt"/>
<line x1="1158.4" y1="976.12" x2="1163.6" y2="976.12" stroke="#000" stroke-width="1.6" stroke-linecap="butt"/>
<line x1="1158.4" y1="978.77" x2="1163.6" y2="978.77" stroke="#000" stroke-width="1.6" stroke-linecap="butt"/>
<circle cx="1174.5" cy="970.63" r="3.95" fill="#F7C46E" stroke="#5c5c5c" stroke-width="1.4"/>
<circle cx="1175.3" cy="972.84" r="3.95" fill="#F7C46E" stroke="#5c5c5c" stroke-width="1.4"/>
<circle cx="1173.7" cy="975.06" r="3.95" fill="#F7C46E" stroke="#5c5c5c" stroke-width="1.4"/>
<circle cx="1174.9" cy="976.83" r="3.95" fill="#F7C46E" stroke="#5c5c5c" stroke-width="1.4"/>
<circle cx="1174.5" cy="978.6" r="3.95" fill="#F7C46E" stroke="#5c5c5c" stroke-width="1.4"/>
<circle cx="1175.3" cy="980.81" r="3.95" fill="#F7C46E" stroke="#5c5c5c" stroke-width="1.4"/>
<line x1="1169.9" y1="975.76" x2="1179.1" y2="975.76" stroke="#000" stroke-width="1.8" stroke-linecap="butt"/>
<line x1="1174.5" y1="974.44" x2="1174.5" y2="977.09" stroke="#000" stroke-width="1.6" stroke-linecap="butt"/>
<line x1="1171.9" y1="974.44" x2="1177.1" y2="974.44" stroke="#000" stroke-width="1.6" stroke-linecap="butt"/>
<line x1="1171.9" y1="977.09" x2="1177.1" y2="977.09" stroke="#000" stroke-width="1.6" stroke-linecap="butt"/>
<path d="M679 794.5V787.4H693.3V794.5" fill="none" stroke="#000" stroke-width="1.8"/>
<text x="683.8" y="783.9" font-size="10.7" text-anchor="middle" fill="#111"><tspan font-style="italic">P</tspan> = 0.0048</text>
<path d="M653 820.6V811.1H679.8V820.6" fill="none" stroke="#000" stroke-width="1.8"/>
<text x="668.6" y="806.4" font-size="10.7" text-anchor="middle" fill="#111"><tspan font-style="italic">P</tspan> = 0.0002</text>
<path d="M690.9 833.7V825.8H705.1V833.7" fill="none" stroke="#000" stroke-width="1.8"/>
<text x="709.4" y="823.5" font-size="10.7" text-anchor="middle" fill="#111"><tspan font-style="italic">P</tspan> = 0.0237</text>
<path d="M756.8 847.9V840.1H771V847.9" fill="none" stroke="#000" stroke-width="1.8"/>
<text x="765.1" y="836.8" font-size="10.7" text-anchor="middle" fill="#111"><tspan font-style="italic">P</tspan> = 0.0217</text>
<path d="M731.2 871.6V862.6H758V871.6" fill="none" stroke="#000" stroke-width="1.8"/>
<text x="746.2" y="858.6" font-size="10.7" text-anchor="middle" fill="#111"><tspan font-style="italic">P</tspan> = 0.0006</text>
<path d="M771.8 884.2V877.1H785.3V884.2" fill="none" stroke="#000" stroke-width="1.8"/>
<text x="787.6" y="873.5" font-size="10.7" text-anchor="middle" fill="#111"><tspan font-style="italic">P</tspan> = 0.0217</text>
<path d="M833.2 949.9V942H847.4V949.9" fill="none" stroke="#000" stroke-width="1.8"/>
<text x="841" y="935.6" font-size="10.7" text-anchor="middle" fill="#111"><tspan font-style="italic">P</tspan> = 0.0003</text>
<path d="M808.5 974.8V965.3H835.1V974.8" fill="none" stroke="#000" stroke-width="1.8"/>
<text x="809.5" y="961.2" font-size="10.7" text-anchor="middle" fill="#111"><tspan font-style="italic">P</tspan> = 0.0053</text>
<path d="M847.4 976.9V970.2H861.8V976.9" fill="none" stroke="#000" stroke-width="1.8"/>
<text x="862" y="968" font-size="10.7" text-anchor="middle" fill="#111"><tspan font-style="italic">P</tspan> = 0.0199</text>
<path d="M912.2 938.3V930.9H925.7V938.3" fill="none" stroke="#000" stroke-width="1.8"/>
<text x="914.6" y="926.5" font-size="10.7" text-anchor="middle" fill="#111"><tspan font-style="italic">P</tspan> = 0.0015</text>
<path d="M886.4 976.9V967.5H913.9V976.9" fill="none" stroke="#000" stroke-width="1.8"/>
<text x="906.5" y="954.4" font-size="10.7" text-anchor="middle" fill="#111"><tspan font-style="italic">P</tspan> = 0.0028</text>
<path d="M991.9 932.2V924.8H1005.3V932.2" fill="none" stroke="#000" stroke-width="1.8"/>
<text x="995.2" y="921.5" font-size="10.7" text-anchor="middle" fill="#111"><tspan font-style="italic">P</tspan> = 0.0002</text>
<path d="M965 957.4V948.3H991.9V957.4" fill="none" stroke="#000" stroke-width="1.8"/>
<text x="965" y="942.6" font-size="10.7" text-anchor="middle" fill="#111"><tspan font-style="italic">P</tspan> = 0.0072</text>
<path d="M1005.7 958.4V951H1019.8V958.4" fill="none" stroke="#000" stroke-width="1.8"/>
<text x="1026.5" y="947.3" font-size="10.7" text-anchor="middle" fill="#111"><tspan font-style="italic">P</tspan> = 0.0035</text>
<path d="M1071.2 949.3V942.3H1084.3V949.3" fill="none" stroke="#000" stroke-width="1.8"/>
<text x="1079.2" y="938.3" font-size="10.7" text-anchor="middle" fill="#111"><tspan font-style="italic">P</tspan> = 0.0237</text>
<path d="M1044.3 976.2V967.8H1071.2V976.2" fill="none" stroke="#000" stroke-width="1.8"/>
<text x="1057.7" y="963.5" font-size="10.7" text-anchor="middle" fill="#111"><tspan font-style="italic">P</tspan> = 0.0105</text>
<path d="M1120.6 954.4V945H1147.5V954.4" fill="none" stroke="#000" stroke-width="1.8"/>
<text x="1135" y="941.6" font-size="10.7" text-anchor="middle" fill="#111"><tspan font-style="italic">P</tspan> = 0.0006</text>
<circle cx="1036.6" cy="792.1" r="4.6" fill="#AAAAAA" stroke="#555" stroke-width="1.3"/>
<text x="1054.4" y="797.8" font-size="14.4" font-weight="bold" text-anchor="start" fill="#000">Control</text>
<circle cx="1036.6" cy="811.6" r="4.6" fill="#8A82D6" stroke="#555" stroke-width="1.3"/>
<text x="1054.4" y="817.3" font-size="14.4" font-weight="bold" text-anchor="start" fill="#000">BX</text>
<circle cx="1036.6" cy="830" r="4.6" fill="#EA5B4D" stroke="#555" stroke-width="1.3"/>
<text x="1054.4" y="835.5" font-size="14.4" font-weight="bold" text-anchor="start" fill="#000">Nicotine</text>
<circle cx="1036.6" cy="849.9" r="4.6" fill="#5CC2EA" stroke="#555" stroke-width="1.3"/>
<text x="1054.4" y="855.3" font-size="14.4" font-weight="bold" text-anchor="start" fill="#000">Nicotine + BX</text>
<circle cx="1036.6" cy="871" r="4.6" fill="#F7C46E" stroke="#555" stroke-width="1.3"/>
<text x="1054.4" y="876.3" font-size="14.4" font-weight="bold">Nicotine + BX-Δ<tspan font-style="italic">nicX</tspan></text>
</svg>
</body></html>
